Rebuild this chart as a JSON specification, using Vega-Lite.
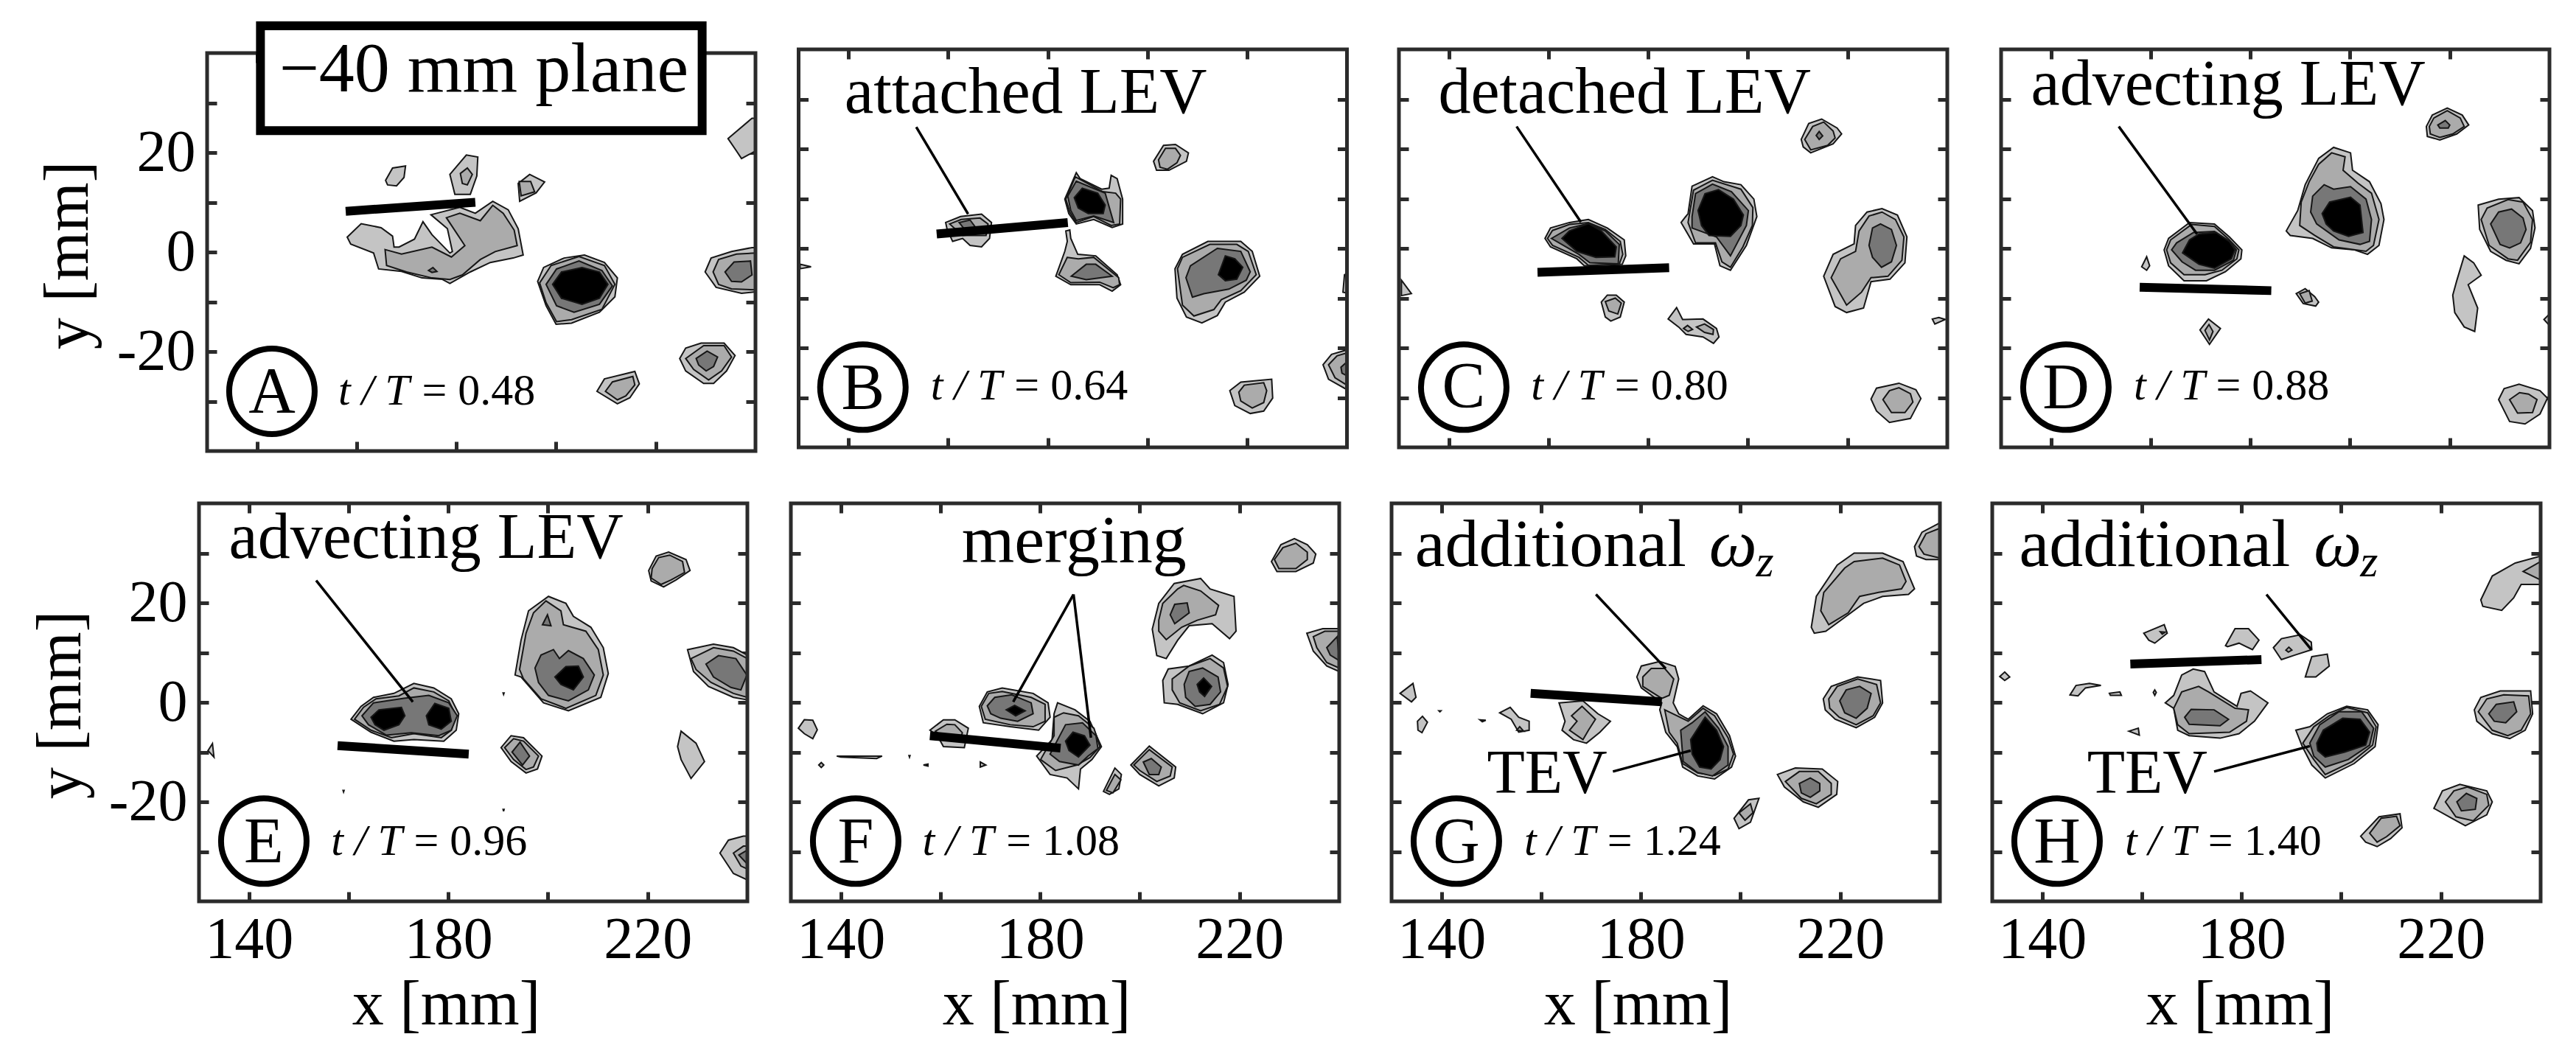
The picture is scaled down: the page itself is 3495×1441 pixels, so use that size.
{"$schema":"https://vega.github.io/schema/vega-lite/v6.json","background":"white","padding":0,"columns":4,"spacing":0,"bounds":"flush","align":"each","config":{"view":{"stroke":null},"axis":{"domain":false,"grid":false,"tickColor":"#2b2b2b","tickWidth":5,"tickSize":-13,"labels":false,"zindex":1,"labelFont":"Liberation Serif","labelFontSize":80,"labelColor":"black","titleFont":"Liberation Serif","titleFontSize":86,"titleFontWeight":"normal","titleColor":"black"},"text":{"font":"Liberation Serif","color":"black"}},
"datasets":{
"frame":[{"x":130,"x2":240,"y":-40,"y2":40}],
"A":[
{"s":"1","l":1,"x":158.1,"y":3},{"s":"1","l":1,"x":160.9,"y":5.7},{"s":"1","l":1,"x":164.9,"y":4.9},{"s":"1","l":1,"x":167.2,"y":3.2},{"s":"1","l":1,"x":167.5,"y":1},{"s":"1","l":1,"x":168.5,"y":1},{"s":"1","l":1,"x":171.6,"y":2.6},{"s":"1","l":1,"x":173.3,"y":6.1},{"s":"1","l":1,"x":175.1,"y":3.5},{"s":"1","l":1,"x":178.7,"y":-0.2},{"s":"1","l":1,"x":179.2,"y":0.1},{"s":"1","l":1,"x":178.2,"y":4.7},{"s":"1","l":1,"x":174.9,"y":7.5},{"s":"1","l":1,"x":180.7,"y":9},{"s":"1","l":1,"x":183.8,"y":7.8},{"s":"1","l":1,"x":187.3,"y":10.2},{"s":"1","l":1,"x":190.4,"y":8.5},{"s":"1","l":1,"x":192.4,"y":4.7},{"s":"1","l":1,"x":193.4,"y":-0.6},{"s":"1","l":1,"x":191.4,"y":-1.2},{"s":"1","l":1,"x":186.8,"y":-2.1},{"s":"1","l":1,"x":182.8,"y":-4},{"s":"1","l":1,"x":178.7,"y":-6.3},{"s":"1","l":1,"x":177.2,"y":-5.5},{"s":"1","l":1,"x":173.1,"y":-5.2},{"s":"1","l":1,"x":169,"y":-3.9},{"s":"1","l":1,"x":164.4,"y":-3.4},{"s":"1","l":1,"x":163.4,"y":-0.2},{"s":"1","l":1,"x":158.8,"y":1.6},
{"s":"2","l":2,"x":165.7,"y":0.5},{"s":"2","l":2,"x":169,"y":-0.4},{"s":"2","l":2,"x":175.1,"y":1},{"s":"2","l":2,"x":179,"y":-1},{"s":"2","l":2,"x":181.7,"y":1.3},{"s":"2","l":2,"x":178,"y":6.9},{"s":"2","l":2,"x":180.7,"y":7.8},{"s":"2","l":2,"x":184.8,"y":6.3},{"s":"2","l":2,"x":187.3,"y":9.4},{"s":"2","l":2,"x":189.4,"y":7.8},{"s":"2","l":2,"x":191.6,"y":4.4},{"s":"2","l":2,"x":192.2,"y":1.3},{"s":"2","l":2,"x":187.8,"y":0.1},{"s":"2","l":2,"x":184.8,"y":-1.5},{"s":"2","l":2,"x":181.2,"y":-4.6},{"s":"2","l":2,"x":178.7,"y":-5.5},{"s":"2","l":2,"x":175.1,"y":-5.2},{"s":"2","l":2,"x":170,"y":-4},{"s":"2","l":2,"x":166,"y":-2.7},
{"s":"3","l":3,"x":174.4,"y":-3.7},{"s":"3","l":3,"x":175.3,"y":-3.1},{"s":"3","l":3,"x":176.1,"y":-3.9},{"s":"3","l":3,"x":175.1,"y":-4.1},
{"s":"4","l":1,"x":165.8,"y":14.4},{"s":"4","l":1,"x":167.2,"y":16.9},{"s":"4","l":1,"x":169.8,"y":17.3},{"s":"4","l":1,"x":169.5,"y":15},{"s":"4","l":1,"x":168,"y":13.3},{"s":"4","l":1,"x":166.2,"y":13.5},
{"s":"5","l":1,"x":178.7,"y":15.6},{"s":"5","l":1,"x":182,"y":19.5},{"s":"5","l":1,"x":184.3,"y":19.1},{"s":"5","l":1,"x":184.1,"y":15.3},{"s":"5","l":1,"x":182.8,"y":11.6},{"s":"5","l":1,"x":179.7,"y":11.6},
{"s":"6","l":2,"x":180.8,"y":15.8},{"s":"6","l":2,"x":182.2,"y":16.9},{"s":"6","l":2,"x":183.2,"y":15.6},{"s":"6","l":2,"x":182.2,"y":13.5},{"s":"6","l":2,"x":181.2,"y":13.8},
{"s":"7","l":1,"x":192.4,"y":13.8},{"s":"7","l":1,"x":194.7,"y":15.6},{"s":"7","l":1,"x":197.7,"y":14.1},{"s":"7","l":1,"x":196,"y":11.9},{"s":"7","l":1,"x":192.7,"y":10.2},
{"s":"8","l":2,"x":192.6,"y":14.2},{"s":"8","l":2,"x":194.9,"y":14.2},{"s":"8","l":2,"x":195.7,"y":12.1},{"s":"8","l":2,"x":193,"y":11.3},
{"s":"9","l":1,"x":234.5,"y":22.8},{"s":"9","l":1,"x":239.3,"y":26.9},{"s":"9","l":1,"x":240,"y":26.9},{"s":"9","l":1,"x":240,"y":20.3},{"s":"9","l":1,"x":237.2,"y":18.8},{"s":"9","l":1,"x":236.2,"y":20.3},
{"s":"10","l":1,"x":196.3,"y":-5.9},{"s":"10","l":1,"x":197.5,"y":-3.1},{"s":"10","l":1,"x":201.6,"y":-1.2},{"s":"10","l":1,"x":205.7,"y":-0.6},{"s":"10","l":1,"x":209.7,"y":-2.1},{"s":"10","l":1,"x":212.3,"y":-5.2},{"s":"10","l":1,"x":211.8,"y":-9},{"s":"10","l":1,"x":208.7,"y":-12.1},{"s":"10","l":1,"x":203.1,"y":-14.3},{"s":"10","l":1,"x":200,"y":-14.5},{"s":"10","l":1,"x":198,"y":-10.8},
{"s":"11","l":2,"x":196.7,"y":-6.2},{"s":"11","l":2,"x":199,"y":-2.7},{"s":"11","l":2,"x":204.6,"y":-0.9},{"s":"11","l":2,"x":209.7,"y":-2.7},{"s":"11","l":2,"x":211.8,"y":-6.5},{"s":"11","l":2,"x":209.2,"y":-11.5},{"s":"11","l":2,"x":203.1,"y":-13.6},{"s":"11","l":2,"x":200.1,"y":-14},{"s":"11","l":2,"x":198,"y":-10.2},
{"s":"12","l":3,"x":198,"y":-6.5},{"s":"12","l":3,"x":200.1,"y":-3.4},{"s":"12","l":3,"x":204.6,"y":-1.8},{"s":"12","l":3,"x":209.2,"y":-3.7},{"s":"12","l":3,"x":211.3,"y":-6.8},{"s":"12","l":3,"x":208.7,"y":-10.5},{"s":"12","l":3,"x":203.6,"y":-12.1},{"s":"12","l":3,"x":200.1,"y":-10.8},
{"s":"13","l":4,"x":199.3,"y":-6.5},{"s":"13","l":4,"x":201.1,"y":-4},{"s":"13","l":4,"x":205.2,"y":-3.1},{"s":"13","l":4,"x":208.7,"y":-4},{"s":"13","l":4,"x":210.4,"y":-6.5},{"s":"13","l":4,"x":208.7,"y":-9.3},{"s":"13","l":4,"x":205.2,"y":-10.5},{"s":"13","l":4,"x":201.1,"y":-9.3},
{"s":"14","l":1,"x":229.9,"y":-4},{"s":"14","l":1,"x":231.1,"y":-1.2},{"s":"14","l":1,"x":235.2,"y":0.1},{"s":"14","l":1,"x":239.3,"y":0.9},{"s":"14","l":1,"x":240,"y":0.9},{"s":"14","l":1,"x":240,"y":-8},{"s":"14","l":1,"x":237.2,"y":-8.3},{"s":"14","l":1,"x":232.1,"y":-7.1},
{"s":"15","l":2,"x":231.5,"y":-4},{"s":"15","l":2,"x":232.6,"y":-1.5},{"s":"15","l":2,"x":236.2,"y":-0.4},{"s":"15","l":2,"x":240,"y":-0.2},{"s":"15","l":2,"x":240,"y":-7.6},{"s":"15","l":2,"x":235.2,"y":-7.4},{"s":"15","l":2,"x":232.6,"y":-6.5},
{"s":"16","l":3,"x":233.9,"y":-4},{"s":"16","l":3,"x":235.7,"y":-2},{"s":"16","l":3,"x":239,"y":-1.8},{"s":"16","l":3,"x":239.3,"y":-4.6},{"s":"16","l":3,"x":237.2,"y":-6},{"s":"16","l":3,"x":235.2,"y":-5.9},
{"s":"17","l":1,"x":224.8,"y":-21.4},{"s":"17","l":1,"x":226,"y":-19.3},{"s":"17","l":1,"x":229.1,"y":-18.3},{"s":"17","l":1,"x":233.7,"y":-18.3},{"s":"17","l":1,"x":235.9,"y":-20.8},{"s":"17","l":1,"x":234.2,"y":-23.9},{"s":"17","l":1,"x":231.6,"y":-26.4},{"s":"17","l":1,"x":229.6,"y":-26.4},{"s":"17","l":1,"x":226,"y":-23.9},
{"s":"18","l":2,"x":226,"y":-21.4},{"s":"18","l":2,"x":229.6,"y":-18.8},{"s":"18","l":2,"x":233.7,"y":-18.8},{"s":"18","l":2,"x":235.2,"y":-21.1},{"s":"18","l":2,"x":233.2,"y":-23.9},{"s":"18","l":2,"x":230.6,"y":-25.7},{"s":"18","l":2,"x":227.6,"y":-23.6},
{"s":"19","l":3,"x":228.1,"y":-21.4},{"s":"19","l":3,"x":230.3,"y":-19.9},{"s":"19","l":3,"x":232.4,"y":-21.1},{"s":"19","l":3,"x":231.6,"y":-23},{"s":"19","l":3,"x":230.1,"y":-23.9},{"s":"19","l":3,"x":228.6,"y":-22.7},
{"s":"20","l":1,"x":208.2,"y":-28},{"s":"20","l":1,"x":209.7,"y":-25.5},{"s":"20","l":1,"x":215.8,"y":-24},{"s":"20","l":1,"x":216.7,"y":-26.5},{"s":"20","l":1,"x":214.8,"y":-29.3},{"s":"20","l":1,"x":212.3,"y":-30.5},
{"s":"21","l":2,"x":209.9,"y":-28},{"s":"21","l":2,"x":211.3,"y":-26.1},{"s":"21","l":2,"x":215.4,"y":-25},{"s":"21","l":2,"x":215.8,"y":-26.7},{"s":"21","l":2,"x":214,"y":-28.9},{"s":"21","l":2,"x":212.3,"y":-29.7}],
"B":[
{"s":"1","l":1,"x":159.5,"y":5.2},{"s":"1","l":1,"x":162.5,"y":6.4},{"s":"1","l":1,"x":166.7,"y":6.9},{"s":"1","l":1,"x":168.7,"y":5.2},{"s":"1","l":1,"x":168.3,"y":2},{"s":"1","l":1,"x":166.7,"y":0.3},{"s":"1","l":1,"x":164.4,"y":0.6},{"s":"1","l":1,"x":162.9,"y":2},{"s":"1","l":1,"x":160.9,"y":1.4},{"s":"1","l":1,"x":159.8,"y":3.8},
{"s":"2","l":2,"x":160.3,"y":4.9},{"s":"2","l":2,"x":162.6,"y":5.8},{"s":"2","l":2,"x":166.4,"y":6.1},{"s":"2","l":2,"x":168,"y":4.9},{"s":"2","l":2,"x":167.6,"y":2.6},{"s":"2","l":2,"x":162.9,"y":2.6},
{"s":"3","l":3,"x":162.2,"y":5.2},{"s":"3","l":3,"x":164.4,"y":5.7},{"s":"3","l":3,"x":165.8,"y":3.8},{"s":"3","l":3,"x":163.3,"y":3.8},
{"s":"4","l":1,"x":130.3,"y":-3.2},{"s":"4","l":1,"x":132.5,"y":-3.7},{"s":"4","l":1,"x":130.3,"y":-4.1},
{"s":"5","l":1,"x":201.2,"y":17.5},{"s":"5","l":1,"x":203.2,"y":20.7},{"s":"5","l":1,"x":205.6,"y":20.9},{"s":"5","l":1,"x":208.2,"y":19.2},{"s":"5","l":1,"x":207.8,"y":17.5},{"s":"5","l":1,"x":204.3,"y":15.7},{"s":"5","l":1,"x":201.8,"y":15.7},
{"s":"6","l":2,"x":202.2,"y":17.8},{"s":"6","l":2,"x":203.6,"y":20.1},{"s":"6","l":2,"x":205.6,"y":20.1},{"s":"6","l":2,"x":206.6,"y":18.7},{"s":"6","l":2,"x":205.9,"y":17.2},{"s":"6","l":2,"x":204,"y":15.9},{"s":"6","l":2,"x":202.5,"y":16.3},
{"s":"7","l":1,"x":183.4,"y":9.9},{"s":"7","l":1,"x":185.7,"y":15.2},{"s":"7","l":1,"x":186.5,"y":14},{"s":"7","l":1,"x":190.8,"y":11.9},{"s":"7","l":1,"x":192.3,"y":12.1},{"s":"7","l":1,"x":192.7,"y":14.7},{"s":"7","l":1,"x":193.9,"y":14},{"s":"7","l":1,"x":195,"y":9.9},{"s":"7","l":1,"x":195,"y":4.9},{"s":"7","l":1,"x":192.9,"y":4.2},{"s":"7","l":1,"x":189.2,"y":5.8},{"s":"7","l":1,"x":185.7,"y":4.9},{"s":"7","l":1,"x":184.2,"y":7},
{"s":"8","l":2,"x":183.6,"y":9.9},{"s":"8","l":2,"x":185.5,"y":14.4},{"s":"8","l":2,"x":191,"y":11.4},{"s":"8","l":2,"x":193.6,"y":11.1},{"s":"8","l":2,"x":194.6,"y":9.9},{"s":"8","l":2,"x":194.4,"y":4.9},{"s":"8","l":2,"x":192.7,"y":4.6},{"s":"8","l":2,"x":189.2,"y":6.4},{"s":"8","l":2,"x":185.7,"y":5.2},{"s":"8","l":2,"x":184.4,"y":7.3},
{"s":"9","l":3,"x":184,"y":10.5},{"s":"9","l":3,"x":185.7,"y":13.5},{"s":"9","l":3,"x":191.5,"y":11.1},{"s":"9","l":3,"x":193.2,"y":5.2},{"s":"9","l":3,"x":189.2,"y":6.5},{"s":"9","l":3,"x":185.7,"y":5.6},{"s":"9","l":3,"x":184.6,"y":7.6},
{"s":"10","l":4,"x":185.3,"y":10.2},{"s":"10","l":4,"x":186.9,"y":12.1},{"s":"10","l":4,"x":190,"y":11.1},{"s":"10","l":4,"x":191.5,"y":8.7},{"s":"10","l":4,"x":191.1,"y":7},{"s":"10","l":4,"x":188.1,"y":7},{"s":"10","l":4,"x":186.1,"y":8.1},
{"s":"11","l":1,"x":183.6,"y":3.5},{"s":"11","l":1,"x":184.4,"y":3.7},{"s":"11","l":1,"x":184.6,"y":2},{"s":"11","l":1,"x":186,"y":-1.2},{"s":"11","l":1,"x":189.6,"y":-1.5},{"s":"11","l":1,"x":193.9,"y":-5.3},{"s":"11","l":1,"x":194.6,"y":-7.3},{"s":"11","l":1,"x":192.9,"y":-8.6},{"s":"11","l":1,"x":190.4,"y":-7.3},{"s":"11","l":1,"x":184.6,"y":-7.3},{"s":"11","l":1,"x":181.6,"y":-5.6},{"s":"11","l":1,"x":183.4,"y":-0.6},{"s":"11","l":1,"x":183.9,"y":1.4},
{"s":"12","l":2,"x":183.9,"y":-1.8},{"s":"12","l":2,"x":186.1,"y":-2.1},{"s":"12","l":2,"x":189.2,"y":-1.8},{"s":"12","l":2,"x":194.2,"y":-5.9},{"s":"12","l":2,"x":194.4,"y":-7.3},{"s":"12","l":2,"x":193.1,"y":-7.9},{"s":"12","l":2,"x":190.4,"y":-6.8},{"s":"12","l":2,"x":184.6,"y":-6.9},{"s":"12","l":2,"x":182.2,"y":-5.3},
{"s":"13","l":3,"x":184.7,"y":-5.6},{"s":"13","l":3,"x":187.7,"y":-3.2},{"s":"13","l":3,"x":189.6,"y":-3.2},{"s":"13","l":3,"x":192.9,"y":-5.6},{"s":"13","l":3,"x":187.7,"y":-6.3},
{"s":"14","l":1,"x":205.5,"y":-4.1},{"s":"14","l":1,"x":207,"y":-1.2},{"s":"14","l":1,"x":212.1,"y":1.4},{"s":"14","l":1,"x":218.7,"y":1.4},{"s":"14","l":1,"x":221,"y":-0.6},{"s":"14","l":1,"x":222.5,"y":-5.6},{"s":"14","l":1,"x":219.4,"y":-8.8},{"s":"14","l":1,"x":215.6,"y":-10.8},{"s":"14","l":1,"x":214,"y":-13.5},{"s":"14","l":1,"x":210.9,"y":-15},{"s":"14","l":1,"x":207.8,"y":-13.8},{"s":"14","l":1,"x":205.9,"y":-10},
{"s":"15","l":2,"x":206,"y":-4.1},{"s":"15","l":2,"x":207,"y":-1.8},{"s":"15","l":2,"x":212.5,"y":0.8},{"s":"15","l":2,"x":217.9,"y":0.8},{"s":"15","l":2,"x":220.2,"y":-0.6},{"s":"15","l":2,"x":221.8,"y":-5.3},{"s":"15","l":2,"x":218.7,"y":-8.5},{"s":"15","l":2,"x":214.8,"y":-10.3},{"s":"15","l":2,"x":213.3,"y":-12.3},{"s":"15","l":2,"x":209.3,"y":-13.6},{"s":"15","l":2,"x":207,"y":-11.4},
{"s":"16","l":3,"x":207.7,"y":-5.9},{"s":"16","l":3,"x":208.6,"y":-3.5},{"s":"16","l":3,"x":214,"y":0},{"s":"16","l":3,"x":218.7,"y":-0.6},{"s":"16","l":3,"x":220.6,"y":-4.7},{"s":"16","l":3,"x":219.8,"y":-6.4},{"s":"16","l":3,"x":216.3,"y":-8.2},{"s":"16","l":3,"x":211.3,"y":-9.1},{"s":"16","l":3,"x":209,"y":-9.8},
{"s":"17","l":4,"x":214.2,"y":-5.3},{"s":"17","l":4,"x":215.6,"y":-1.5},{"s":"17","l":4,"x":217.5,"y":-2.1},{"s":"17","l":4,"x":219.1,"y":-3.8},{"s":"17","l":4,"x":217.9,"y":-6.2},{"s":"17","l":4,"x":215.6,"y":-6.5},
{"s":"18","l":1,"x":239.2,"y":-8.8},{"s":"18","l":1,"x":239.5,"y":-5.3},{"s":"18","l":1,"x":240,"y":-5},{"s":"18","l":1,"x":240,"y":-9},
{"s":"19","l":1,"x":235.2,"y":-23.4},{"s":"19","l":1,"x":236.9,"y":-21.3},{"s":"19","l":1,"x":240,"y":-20.4},{"s":"19","l":1,"x":240,"y":-28.4},{"s":"19","l":1,"x":236.3,"y":-26.3},
{"s":"20","l":2,"x":236.3,"y":-23.4},{"s":"20","l":2,"x":238,"y":-21.6},{"s":"20","l":2,"x":240,"y":-21},{"s":"20","l":2,"x":240,"y":-27.5},{"s":"20","l":2,"x":237.6,"y":-26},
{"s":"21","l":3,"x":238.8,"y":-23.9},{"s":"21","l":3,"x":240,"y":-22.8},{"s":"21","l":3,"x":240,"y":-25.6},{"s":"21","l":3,"x":239,"y":-25.1},
{"s":"22","l":1,"x":216.5,"y":-28.6},{"s":"22","l":1,"x":218.7,"y":-26.9},{"s":"22","l":1,"x":224.9,"y":-26.3},{"s":"22","l":1,"x":225.1,"y":-30.1},{"s":"22","l":1,"x":223.3,"y":-32.7},{"s":"22","l":1,"x":220.6,"y":-33.2},{"s":"22","l":1,"x":217.5,"y":-31.6},
{"s":"23","l":2,"x":218.3,"y":-28.9},{"s":"23","l":2,"x":219.4,"y":-27.5},{"s":"23","l":2,"x":223.3,"y":-27},{"s":"23","l":2,"x":223.9,"y":-28.6},{"s":"23","l":2,"x":223.3,"y":-31},{"s":"23","l":2,"x":221,"y":-32.1},{"s":"23","l":2,"x":218.7,"y":-30.7}],
"C":[
{"s":"1","l":1,"x":159.3,"y":2},{"s":"1","l":1,"x":160.4,"y":4.1},{"s":"1","l":1,"x":164.2,"y":5.2},{"s":"1","l":1,"x":168,"y":5.8},{"s":"1","l":1,"x":171.8,"y":4.1},{"s":"1","l":1,"x":175.2,"y":1.7},{"s":"1","l":1,"x":175.5,"y":-1.5},{"s":"1","l":1,"x":174.8,"y":-3.2},{"s":"1","l":1,"x":167.2,"y":-3.5},{"s":"1","l":1,"x":165.7,"y":-2.1},{"s":"1","l":1,"x":160.4,"y":0.3},
{"s":"2","l":2,"x":159.8,"y":2},{"s":"2","l":2,"x":160.8,"y":3.6},{"s":"2","l":2,"x":164.2,"y":4.8},{"s":"2","l":2,"x":168,"y":5.2},{"s":"2","l":2,"x":171.4,"y":3.8},{"s":"2","l":2,"x":174.4,"y":1.4},{"s":"2","l":2,"x":174.9,"y":-1.2},{"s":"2","l":2,"x":174.2,"y":-3.2},{"s":"2","l":2,"x":168,"y":-3.4},{"s":"2","l":2,"x":166.1,"y":-1.8},{"s":"2","l":2,"x":160.8,"y":0.6},
{"s":"3","l":3,"x":160.6,"y":2},{"s":"3","l":3,"x":164.2,"y":4.1},{"s":"3","l":3,"x":168,"y":5},{"s":"3","l":3,"x":171.4,"y":3.5},{"s":"3","l":3,"x":174.2,"y":0.8},{"s":"3","l":3,"x":174,"y":-3.1},{"s":"3","l":3,"x":168.3,"y":-2.9},{"s":"3","l":3,"x":166.1,"y":-1.2},
{"s":"4","l":4,"x":162.7,"y":2},{"s":"4","l":4,"x":164.2,"y":3.5},{"s":"4","l":4,"x":168,"y":5},{"s":"4","l":4,"x":170.6,"y":3.5},{"s":"4","l":4,"x":173.6,"y":0.3},{"s":"4","l":4,"x":173.3,"y":-1.7},{"s":"4","l":4,"x":169.5,"y":-1.8},{"s":"4","l":4,"x":165.7,"y":-0.6},
{"s":"5","l":1,"x":130.5,"y":-6.4},{"s":"5","l":1,"x":132.5,"y":-9.1},{"s":"5","l":1,"x":130.5,"y":-9.5},
{"s":"6","l":1,"x":186.6,"y":5.2},{"s":"6","l":1,"x":188,"y":7},{"s":"6","l":1,"x":188.8,"y":12.5},{"s":"6","l":1,"x":192.9,"y":14.4},{"s":"6","l":1,"x":195.2,"y":13.4},{"s":"6","l":1,"x":198.6,"y":12.8},{"s":"6","l":1,"x":201.2,"y":9.9},{"s":"6","l":1,"x":201.8,"y":6.4},{"s":"6","l":1,"x":199.7,"y":0.6},{"s":"6","l":1,"x":196.5,"y":-4.4},{"s":"6","l":1,"x":194.4,"y":-3.5},{"s":"6","l":1,"x":193.3,"y":0.9},{"s":"6","l":1,"x":189.1,"y":0.9},
{"s":"7","l":2,"x":188,"y":5.2},{"s":"7","l":2,"x":189.1,"y":11.7},{"s":"7","l":2,"x":192.9,"y":13.7},{"s":"7","l":2,"x":198.6,"y":11.9},{"s":"7","l":2,"x":201,"y":8.2},{"s":"7","l":2,"x":200.9,"y":4.6},{"s":"7","l":2,"x":199,"y":0.3},{"s":"7","l":2,"x":196.5,"y":-3.8},{"s":"7","l":2,"x":194.8,"y":-2.7},{"s":"7","l":2,"x":193.5,"y":1.1},{"s":"7","l":2,"x":189.5,"y":1.1},
{"s":"8","l":3,"x":188.8,"y":6.4},{"s":"8","l":3,"x":189.5,"y":11},{"s":"8","l":3,"x":192.9,"y":12.9},{"s":"8","l":3,"x":196.7,"y":11.4},{"s":"8","l":3,"x":200.1,"y":7.6},{"s":"8","l":3,"x":199.7,"y":4.6},{"s":"8","l":3,"x":196.5,"y":-1.5},{"s":"8","l":3,"x":193.7,"y":2.3},{"s":"8","l":3,"x":188.8,"y":4.1},
{"s":"9","l":4,"x":190,"y":7.6},{"s":"9","l":4,"x":191.4,"y":11},{"s":"9","l":4,"x":194.1,"y":11.8},{"s":"9","l":4,"x":197.1,"y":9.9},{"s":"9","l":4,"x":199.1,"y":6.7},{"s":"9","l":4,"x":198.6,"y":4.6},{"s":"9","l":4,"x":196.5,"y":2.4},{"s":"9","l":4,"x":192.2,"y":2.6},{"s":"9","l":4,"x":190.7,"y":4.6},
{"s":"10","l":1,"x":210.7,"y":21.9},{"s":"10","l":1,"x":212.2,"y":25.1},{"s":"10","l":1,"x":214.8,"y":26},{"s":"10","l":1,"x":217.9,"y":24.2},{"s":"10","l":1,"x":218.8,"y":23},{"s":"10","l":1,"x":217.1,"y":21},{"s":"10","l":1,"x":212.6,"y":19.2},{"s":"10","l":1,"x":211.1,"y":20.4},
{"s":"11","l":2,"x":211.4,"y":21.9},{"s":"11","l":2,"x":213,"y":24.5},{"s":"11","l":2,"x":215.2,"y":25.4},{"s":"11","l":2,"x":217.1,"y":23.6},{"s":"11","l":2,"x":217.5,"y":22.2},{"s":"11","l":2,"x":216,"y":20.7},{"s":"11","l":2,"x":212.6,"y":19.8},
{"s":"12","l":3,"x":213.7,"y":22.7},{"s":"12","l":3,"x":214.3,"y":23.5},{"s":"12","l":3,"x":215,"y":22.6},{"s":"12","l":3,"x":214.3,"y":21.9},
{"s":"13","l":1,"x":215.2,"y":-5.6},{"s":"13","l":1,"x":217.1,"y":-1.2},{"s":"13","l":1,"x":221.3,"y":0.9},{"s":"13","l":1,"x":221.6,"y":4.6},{"s":"13","l":1,"x":223.9,"y":7.3},{"s":"13","l":1,"x":226.9,"y":8},{"s":"13","l":1,"x":230,"y":6.7},{"s":"13","l":1,"x":231.9,"y":2.3},{"s":"13","l":1,"x":231.5,"y":-2.9},{"s":"13","l":1,"x":228.5,"y":-6.2},{"s":"13","l":1,"x":224.7,"y":-6.7},{"s":"13","l":1,"x":223.2,"y":-12},{"s":"13","l":1,"x":219.8,"y":-12.9},{"s":"13","l":1,"x":217.5,"y":-11.7},
{"s":"14","l":2,"x":216.7,"y":-5.9},{"s":"14","l":2,"x":218.6,"y":-2.1},{"s":"14","l":2,"x":221.6,"y":-0.6},{"s":"14","l":2,"x":222.3,"y":3.5},{"s":"14","l":2,"x":224.3,"y":6.5},{"s":"14","l":2,"x":226.9,"y":7.3},{"s":"14","l":2,"x":229.6,"y":5.8},{"s":"14","l":2,"x":231.3,"y":2.3},{"s":"14","l":2,"x":230.9,"y":-2.4},{"s":"14","l":2,"x":228.1,"y":-5.6},{"s":"14","l":2,"x":224.7,"y":-5.9},{"s":"14","l":2,"x":222.8,"y":-8.8},{"s":"14","l":2,"x":219.8,"y":-11.4},
{"s":"15","l":3,"x":224.3,"y":0.6},{"s":"15","l":3,"x":225,"y":4.1},{"s":"15","l":3,"x":226.6,"y":4.9},{"s":"15","l":3,"x":228.8,"y":3.8},{"s":"15","l":3,"x":229.8,"y":0.6},{"s":"15","l":3,"x":228.8,"y":-2.7},{"s":"15","l":3,"x":226.8,"y":-3.8},{"s":"15","l":3,"x":225,"y":-1.8},
{"s":"16","l":1,"x":170.6,"y":-10.8},{"s":"16","l":1,"x":171.8,"y":-9.4},{"s":"16","l":1,"x":173.6,"y":-9.4},{"s":"16","l":1,"x":175.2,"y":-10.8},{"s":"16","l":1,"x":174.4,"y":-13.8},{"s":"16","l":1,"x":172.5,"y":-14.6},{"s":"16","l":1,"x":171.4,"y":-13.8},
{"s":"17","l":2,"x":171.4,"y":-10.7},{"s":"17","l":2,"x":173.4,"y":-10},{"s":"17","l":2,"x":174.6,"y":-11},{"s":"17","l":2,"x":173.9,"y":-13.2},{"s":"17","l":2,"x":172.1,"y":-12.6},
{"s":"18","l":1,"x":184,"y":-14.2},{"s":"18","l":1,"x":185.7,"y":-11.9},{"s":"18","l":1,"x":186.9,"y":-14.3},{"s":"18","l":1,"x":191,"y":-14.2},{"s":"18","l":1,"x":193.7,"y":-16.1},{"s":"18","l":1,"x":194.2,"y":-17.8},{"s":"18","l":1,"x":193.1,"y":-19.1},{"s":"18","l":1,"x":191,"y":-17.8},{"s":"18","l":1,"x":187.6,"y":-17.3},{"s":"18","l":1,"x":186.1,"y":-15.8},
{"s":"19","l":2,"x":189.7,"y":-15.8},{"s":"19","l":2,"x":191.3,"y":-15.2},{"s":"19","l":2,"x":193.1,"y":-16.3},{"s":"19","l":2,"x":193,"y":-17.3},{"s":"19","l":2,"x":191.3,"y":-16.9},
{"s":"20","l":2,"x":187.1,"y":-16.1},{"s":"20","l":2,"x":187.9,"y":-15.5},{"s":"20","l":2,"x":188.9,"y":-16.3},{"s":"20","l":2,"x":188,"y":-16.7},
{"s":"21","l":1,"x":237,"y":-14.2},{"s":"21","l":1,"x":238.3,"y":-13.9},{"s":"21","l":1,"x":239.6,"y":-14.3},{"s":"21","l":1,"x":237.5,"y":-15.2},
{"s":"22","l":1,"x":224.7,"y":-30.3},{"s":"22","l":1,"x":225.8,"y":-28.1},{"s":"22","l":1,"x":230.3,"y":-27.1},{"s":"22","l":1,"x":233.7,"y":-28.4},{"s":"22","l":1,"x":234.7,"y":-30.2},{"s":"22","l":1,"x":232.6,"y":-34.2},{"s":"22","l":1,"x":228.4,"y":-35},{"s":"22","l":1,"x":225.8,"y":-32.7},
{"s":"23","l":2,"x":227.1,"y":-30.4},{"s":"23","l":2,"x":228.4,"y":-28.6},{"s":"23","l":2,"x":230.3,"y":-28},{"s":"23","l":2,"x":232.6,"y":-29.2},{"s":"23","l":2,"x":233.1,"y":-30.9},{"s":"23","l":2,"x":231.5,"y":-33},{"s":"23","l":2,"x":228.8,"y":-33}],
"D":[
{"s":"1","l":1,"x":162.7,"y":-0.3},{"s":"1","l":1,"x":163.6,"y":2},{"s":"1","l":1,"x":167.8,"y":5.2},{"s":"1","l":1,"x":172.8,"y":4.9},{"s":"1","l":1,"x":175.8,"y":2.3},{"s":"1","l":1,"x":178.3,"y":-0.3},{"s":"1","l":1,"x":178.1,"y":-2.1},{"s":"1","l":1,"x":175,"y":-4.7},{"s":"1","l":1,"x":171.2,"y":-6.5},{"s":"1","l":1,"x":166.7,"y":-6.5},{"s":"1","l":1,"x":163.6,"y":-3.5},
{"s":"2","l":2,"x":163.2,"y":-0.3},{"s":"2","l":2,"x":164,"y":1.7},{"s":"2","l":2,"x":168.2,"y":4.8},{"s":"2","l":2,"x":172.8,"y":4.4},{"s":"2","l":2,"x":175.5,"y":2},{"s":"2","l":2,"x":177.7,"y":-0.3},{"s":"2","l":2,"x":177.3,"y":-2.1},{"s":"2","l":2,"x":174.3,"y":-4.4},{"s":"2","l":2,"x":170.9,"y":-5.3},{"s":"2","l":2,"x":166.7,"y":-5.3},{"s":"2","l":2,"x":164,"y":-2.9},
{"s":"3","l":3,"x":164.2,"y":-0.3},{"s":"3","l":3,"x":165.2,"y":1.1},{"s":"3","l":3,"x":168.6,"y":3.2},{"s":"3","l":3,"x":172.8,"y":3.4},{"s":"3","l":3,"x":175.8,"y":1.4},{"s":"3","l":3,"x":177.2,"y":-0.3},{"s":"3","l":3,"x":176.6,"y":-2.4},{"s":"3","l":3,"x":172.8,"y":-4.4},{"s":"3","l":3,"x":169,"y":-4.4},{"s":"3","l":3,"x":166.3,"y":-2.7},
{"s":"4","l":4,"x":166.4,"y":-0.9},{"s":"4","l":4,"x":167.8,"y":1.7},{"s":"4","l":4,"x":169.7,"y":2.9},{"s":"4","l":4,"x":173.1,"y":3.2},{"s":"4","l":4,"x":175.8,"y":1.4},{"s":"4","l":4,"x":176.9,"y":-0.3},{"s":"4","l":4,"x":176.2,"y":-2.1},{"s":"4","l":4,"x":172.8,"y":-4},{"s":"4","l":4,"x":169.7,"y":-3.2},
{"s":"5","l":1,"x":158.2,"y":-3.7},{"s":"5","l":1,"x":159.2,"y":-1.7},{"s":"5","l":1,"x":159.8,"y":-3.5},{"s":"5","l":1,"x":159.2,"y":-4.4},
{"s":"6","l":1,"x":187.2,"y":3.5},{"s":"6","l":1,"x":189.5,"y":7.6},{"s":"6","l":1,"x":191,"y":12.8},{"s":"6","l":1,"x":193.7,"y":18.1},{"s":"6","l":1,"x":196.7,"y":20.3},{"s":"6","l":1,"x":200.1,"y":19.2},{"s":"6","l":1,"x":200.5,"y":15.7},{"s":"6","l":1,"x":203.9,"y":13.4},{"s":"6","l":1,"x":206.2,"y":9},{"s":"6","l":1,"x":206.8,"y":5.8},{"s":"6","l":1,"x":205.8,"y":0.6},{"s":"6","l":1,"x":203.5,"y":-1.2},{"s":"6","l":1,"x":200.9,"y":-0.3},{"s":"6","l":1,"x":196.3,"y":0.1},{"s":"6","l":1,"x":192.5,"y":2},{"s":"6","l":1,"x":188,"y":2.6},
{"s":"7","l":2,"x":189.9,"y":4.6},{"s":"7","l":2,"x":190.2,"y":9.3},{"s":"7","l":2,"x":191.8,"y":13.4},{"s":"7","l":2,"x":193.7,"y":16.9},{"s":"7","l":2,"x":196.3,"y":19.2},{"s":"7","l":2,"x":199,"y":18.4},{"s":"7","l":2,"x":198.6,"y":15.7},{"s":"7","l":2,"x":201.6,"y":13.1},{"s":"7","l":2,"x":204.3,"y":11.1},{"s":"7","l":2,"x":205.8,"y":5.8},{"s":"7","l":2,"x":204.7,"y":0.6},{"s":"7","l":2,"x":203.2,"y":-0.6},{"s":"7","l":2,"x":196.7,"y":0.3},{"s":"7","l":2,"x":192.9,"y":2.6},
{"s":"8","l":3,"x":192.1,"y":7.3},{"s":"8","l":3,"x":192.5,"y":10.5},{"s":"8","l":3,"x":194.8,"y":12.8},{"s":"8","l":3,"x":196.7,"y":11.9},{"s":"8","l":3,"x":200.1,"y":12.4},{"s":"8","l":3,"x":203.2,"y":9.9},{"s":"8","l":3,"x":204.3,"y":5.8},{"s":"8","l":3,"x":203.9,"y":1.4},{"s":"8","l":3,"x":202,"y":0.8},{"s":"8","l":3,"x":197.8,"y":1.7},{"s":"8","l":3,"x":193.3,"y":4.9},
{"s":"9","l":4,"x":194.4,"y":7},{"s":"9","l":4,"x":195.9,"y":9.3},{"s":"9","l":4,"x":200.1,"y":10.3},{"s":"9","l":4,"x":202,"y":8.7},{"s":"9","l":4,"x":202.6,"y":3.2},{"s":"9","l":4,"x":199.7,"y":2.4},{"s":"9","l":4,"x":196.7,"y":3.5},{"s":"9","l":4,"x":195.2,"y":4.9},
{"s":"10","l":1,"x":215.3,"y":24.5},{"s":"10","l":1,"x":216.5,"y":26.8},{"s":"10","l":1,"x":219.5,"y":28.2},{"s":"10","l":1,"x":222.5,"y":26.8},{"s":"10","l":1,"x":223.8,"y":24.8},{"s":"10","l":1,"x":221.4,"y":23},{"s":"10","l":1,"x":218,"y":21.8},{"s":"10","l":1,"x":215.5,"y":22.5},
{"s":"11","l":2,"x":215.9,"y":24.5},{"s":"11","l":2,"x":216.8,"y":26.2},{"s":"11","l":2,"x":219.5,"y":27.7},{"s":"11","l":2,"x":222.1,"y":26.2},{"s":"11","l":2,"x":222.9,"y":24.5},{"s":"11","l":2,"x":220.6,"y":23},{"s":"11","l":2,"x":218,"y":22.3},{"s":"11","l":2,"x":216.1,"y":23},
{"s":"12","l":3,"x":217.6,"y":24.8},{"s":"12","l":3,"x":219.1,"y":25.7},{"s":"12","l":3,"x":220,"y":24.8},{"s":"12","l":3,"x":219.7,"y":24.2},{"s":"12","l":3,"x":218,"y":24.2},
{"s":"13","l":1,"x":225.7,"y":8.7},{"s":"13","l":1,"x":229.8,"y":9.9},{"s":"13","l":1,"x":233.9,"y":10.2},{"s":"13","l":1,"x":236.6,"y":7.6},{"s":"13","l":1,"x":237.1,"y":4.1},{"s":"13","l":1,"x":236.2,"y":0},{"s":"13","l":1,"x":233.9,"y":-3.1},{"s":"13","l":1,"x":231.3,"y":-2.4},{"s":"13","l":1,"x":228.2,"y":-0.6},{"s":"13","l":1,"x":226,"y":3.8},
{"s":"14","l":2,"x":226.3,"y":5.8},{"s":"14","l":2,"x":227.5,"y":8.1},{"s":"14","l":2,"x":231.7,"y":9.8},{"s":"14","l":2,"x":234.7,"y":9.3},{"s":"14","l":2,"x":236.6,"y":5.8},{"s":"14","l":2,"x":236.2,"y":1.2},{"s":"14","l":2,"x":233.6,"y":-2.4},{"s":"14","l":2,"x":231.7,"y":-2.1},{"s":"14","l":2,"x":227.9,"y":0.6},
{"s":"15","l":3,"x":228.2,"y":4.9},{"s":"15","l":3,"x":229.8,"y":7.3},{"s":"15","l":3,"x":232.4,"y":7.9},{"s":"15","l":3,"x":234.7,"y":6.1},{"s":"15","l":3,"x":235.3,"y":3.8},{"s":"15","l":3,"x":234.2,"y":1.1},{"s":"15","l":3,"x":232,"y":0.1},{"s":"15","l":3,"x":230.1,"y":0.8},
{"s":"16","l":1,"x":220.6,"y":-9.4},{"s":"16","l":1,"x":221.4,"y":-6.5},{"s":"16","l":1,"x":222.9,"y":-1.5},{"s":"16","l":1,"x":224.8,"y":-2.9},{"s":"16","l":1,"x":226.3,"y":-5.4},{"s":"16","l":1,"x":223.7,"y":-7.3},{"s":"16","l":1,"x":225.6,"y":-12},{"s":"16","l":1,"x":225,"y":-16.7},{"s":"16","l":1,"x":222.9,"y":-15.8},{"s":"16","l":1,"x":221,"y":-12.9},
{"s":"17","l":1,"x":189.2,"y":-9.1},{"s":"17","l":1,"x":191,"y":-8.1},{"s":"17","l":1,"x":192.9,"y":-9.7},{"s":"17","l":1,"x":193.7,"y":-10.8},{"s":"17","l":1,"x":193.1,"y":-11.6},{"s":"17","l":1,"x":190.6,"y":-11.1},
{"s":"18","l":2,"x":189.9,"y":-9.1},{"s":"18","l":2,"x":191.8,"y":-8.5},{"s":"18","l":2,"x":192.4,"y":-10.6},{"s":"18","l":2,"x":191,"y":-11},
{"s":"19","l":1,"x":169.9,"y":-16.4},{"s":"19","l":1,"x":171.6,"y":-14.2},{"s":"19","l":1,"x":174,"y":-16.1},{"s":"19","l":1,"x":171.8,"y":-19.3},
{"s":"20","l":2,"x":170.9,"y":-16.5},{"s":"20","l":2,"x":171.7,"y":-15.3},{"s":"20","l":2,"x":172.5,"y":-16.7},{"s":"20","l":2,"x":171.8,"y":-18.4},
{"s":"21","l":1,"x":238.9,"y":-14.3},{"s":"21","l":1,"x":240,"y":-13.2},{"s":"21","l":1,"x":240,"y":-15.5},
{"s":"22","l":1,"x":229.8,"y":-30.4},{"s":"22","l":1,"x":230.9,"y":-28.2},{"s":"22","l":1,"x":233.9,"y":-27.3},{"s":"22","l":1,"x":238.1,"y":-28.6},{"s":"22","l":1,"x":239.6,"y":-30.1},{"s":"22","l":1,"x":238.1,"y":-33.3},{"s":"22","l":1,"x":235.1,"y":-35.3},{"s":"22","l":1,"x":232,"y":-34.8},
{"s":"23","l":2,"x":232,"y":-30.4},{"s":"23","l":2,"x":234,"y":-29},{"s":"23","l":2,"x":235.8,"y":-29.3},{"s":"23","l":2,"x":237.5,"y":-30.4},{"s":"23","l":2,"x":236.6,"y":-33},{"s":"23","l":2,"x":233.6,"y":-33.1}],
"E":[
{"s":"1","l":1,"x":160.5,"y":-3.4},{"s":"1","l":1,"x":162.5,"y":-0.8},{"s":"1","l":1,"x":165,"y":1},{"s":"1","l":1,"x":169.1,"y":1.8},{"s":"1","l":1,"x":173.1,"y":3.8},{"s":"1","l":1,"x":177.1,"y":2.9},{"s":"1","l":1,"x":180.6,"y":0.7},{"s":"1","l":1,"x":182.1,"y":-2.3},{"s":"1","l":1,"x":181.6,"y":-5.6},{"s":"1","l":1,"x":179.1,"y":-7.8},{"s":"1","l":1,"x":173.1,"y":-7.5},{"s":"1","l":1,"x":169.1,"y":-7.8},{"s":"1","l":1,"x":164.5,"y":-6},
{"s":"2","l":2,"x":161.2,"y":-3.4},{"s":"2","l":2,"x":163,"y":-1},{"s":"2","l":2,"x":165.5,"y":0.7},{"s":"2","l":2,"x":170.1,"y":1.3},{"s":"2","l":2,"x":173.1,"y":2.9},{"s":"2","l":2,"x":177.1,"y":2.1},{"s":"2","l":2,"x":180.1,"y":0.3},{"s":"2","l":2,"x":181.6,"y":-2.7},{"s":"2","l":2,"x":180.6,"y":-5.6},{"s":"2","l":2,"x":178.6,"y":-7.1},{"s":"2","l":2,"x":173.1,"y":-6.3},{"s":"2","l":2,"x":168.6,"y":-7.1},{"s":"2","l":2,"x":164.5,"y":-5.6},
{"s":"3","l":3,"x":162.7,"y":-2.7},{"s":"3","l":3,"x":165,"y":-0.1},{"s":"3","l":3,"x":171.1,"y":0.8},{"s":"3","l":3,"x":176.1,"y":1.4},{"s":"3","l":3,"x":180.1,"y":-0.1},{"s":"3","l":3,"x":181.8,"y":-2.7},{"s":"3","l":3,"x":180.6,"y":-5.6},{"s":"3","l":3,"x":178.1,"y":-6.7},{"s":"3","l":3,"x":172.6,"y":-6.1},{"s":"3","l":3,"x":167.6,"y":-6.6},{"s":"3","l":3,"x":164,"y":-4.5},
{"s":"4","l":4,"x":164.5,"y":-3},{"s":"4","l":4,"x":166.1,"y":-1.5},{"s":"4","l":4,"x":170.6,"y":-1},{"s":"4","l":4,"x":171.3,"y":-2.7},{"s":"4","l":4,"x":170.1,"y":-4.5},{"s":"4","l":4,"x":167.1,"y":-5.6},{"s":"4","l":4,"x":165.3,"y":-4.5},
{"s":"5","l":4,"x":175.6,"y":-2.7},{"s":"5","l":4,"x":177.3,"y":-0.2},{"s":"5","l":4,"x":180.1,"y":-1.2},{"s":"5","l":4,"x":180.6,"y":-3.8},{"s":"5","l":4,"x":178.6,"y":-5.4},{"s":"5","l":4,"x":176.1,"y":-4.5},
{"s":"6","l":4,"x":191,"y":1.9},{"s":"6","l":4,"x":191.2,"y":1.9},{"s":"6","l":4,"x":191.1,"y":1.6},
{"s":"7","l":4,"x":158.9,"y":-17.7},{"s":"7","l":4,"x":159.1,"y":-17.7},{"s":"7","l":4,"x":159,"y":-18},
{"s":"8","l":4,"x":191,"y":-21.5},{"s":"8","l":4,"x":191.2,"y":-21.5},{"s":"8","l":4,"x":191.1,"y":-21.9},
{"s":"9","l":1,"x":131.8,"y":-9.7},{"s":"9","l":1,"x":132.7,"y":-8.3},{"s":"9","l":1,"x":133,"y":-11},
{"s":"10","l":1,"x":193.4,"y":5.5},{"s":"10","l":1,"x":194.6,"y":12.5},{"s":"10","l":1,"x":196.1,"y":18.4},{"s":"10","l":1,"x":200.1,"y":21.3},{"s":"10","l":1,"x":203.6,"y":19.9},{"s":"10","l":1,"x":205.1,"y":17.3},{"s":"10","l":1,"x":208.6,"y":15.1},{"s":"10","l":1,"x":211.1,"y":11},{"s":"10","l":1,"x":212.1,"y":5.8},{"s":"10","l":1,"x":210.6,"y":1},{"s":"10","l":1,"x":204.1,"y":-1.7},{"s":"10","l":1,"x":199.1,"y":-0.1},{"s":"10","l":1,"x":194.6,"y":5.1},
{"s":"11","l":2,"x":194.3,"y":6.6},{"s":"11","l":2,"x":195.6,"y":13.9},{"s":"11","l":2,"x":197.1,"y":18},{"s":"11","l":2,"x":199.6,"y":20.4},{"s":"11","l":2,"x":202.6,"y":18.4},{"s":"11","l":2,"x":203.1,"y":15.6},{"s":"11","l":2,"x":207.6,"y":14.3},{"s":"11","l":2,"x":210.1,"y":10.6},{"s":"11","l":2,"x":211.1,"y":5.5},{"s":"11","l":2,"x":209.6,"y":1.4},{"s":"11","l":2,"x":203.6,"y":-1.2},{"s":"11","l":2,"x":198.6,"y":0.7},{"s":"11","l":2,"x":195.1,"y":4.7},
{"s":"12","l":3,"x":197.4,"y":6.9},{"s":"12","l":3,"x":198.6,"y":9.5},{"s":"12","l":3,"x":201.1,"y":10.6},{"s":"12","l":3,"x":202.3,"y":8.8},{"s":"12","l":3,"x":204.1,"y":10.4},{"s":"12","l":3,"x":207.1,"y":8.8},{"s":"12","l":3,"x":209.3,"y":5.5},{"s":"12","l":3,"x":208.1,"y":2.5},{"s":"12","l":3,"x":204.1,"y":0.3},{"s":"12","l":3,"x":200.1,"y":1.4},{"s":"12","l":3,"x":198.1,"y":4},
{"s":"13","l":3,"x":198.9,"y":15.6},{"s":"13","l":3,"x":199.9,"y":17.6},{"s":"13","l":3,"x":200.6,"y":15.4},
{"s":"14","l":4,"x":201.4,"y":5.1},{"s":"14","l":4,"x":203.6,"y":7.2},{"s":"14","l":4,"x":206.1,"y":7.3},{"s":"14","l":4,"x":207.1,"y":5.1},{"s":"14","l":4,"x":205.1,"y":2.5},{"s":"14","l":4,"x":202.6,"y":3.6},
{"s":"15","l":1,"x":220.2,"y":26.5},{"s":"15","l":1,"x":221.7,"y":29.4},{"s":"15","l":1,"x":224.2,"y":30.2},{"s":"15","l":1,"x":227.7,"y":28.7},{"s":"15","l":1,"x":228.5,"y":26.5},{"s":"15","l":1,"x":225.7,"y":24.6},{"s":"15","l":1,"x":223.2,"y":23.2},{"s":"15","l":1,"x":220.7,"y":24.4},
{"s":"16","l":2,"x":220.9,"y":26.9},{"s":"16","l":2,"x":222.2,"y":29.1},{"s":"16","l":2,"x":224.4,"y":29.6},{"s":"16","l":2,"x":227,"y":28.3},{"s":"16","l":2,"x":227.4,"y":26.1},{"s":"16","l":2,"x":224.7,"y":24.6},{"s":"16","l":2,"x":222.7,"y":23.7},{"s":"16","l":2,"x":220.7,"y":25},
{"s":"17","l":1,"x":228,"y":10.6},{"s":"17","l":1,"x":233.2,"y":11.7},{"s":"17","l":1,"x":237.2,"y":11},{"s":"17","l":1,"x":240,"y":9.5},{"s":"17","l":1,"x":240,"y":0.5},{"s":"17","l":1,"x":237.2,"y":1},{"s":"17","l":1,"x":232.2,"y":3.2},{"s":"17","l":1,"x":229.2,"y":6.2},
{"s":"18","l":2,"x":228.7,"y":8.8},{"s":"18","l":2,"x":233.2,"y":11},{"s":"18","l":2,"x":237.2,"y":10.3},{"s":"18","l":2,"x":240,"y":8.8},{"s":"18","l":2,"x":240,"y":1},{"s":"18","l":2,"x":237.2,"y":1.8},{"s":"18","l":2,"x":232.7,"y":4},{"s":"18","l":2,"x":229.7,"y":6.6},
{"s":"19","l":3,"x":231.7,"y":7.7},{"s":"19","l":3,"x":234.2,"y":9.4},{"s":"19","l":3,"x":237.7,"y":8.8},{"s":"19","l":3,"x":239.9,"y":5.5},{"s":"19","l":3,"x":238.7,"y":2.5},{"s":"19","l":3,"x":236.7,"y":3},{"s":"19","l":3,"x":233.2,"y":5.1},
{"s":"20","l":1,"x":190.6,"y":-9.1},{"s":"20","l":1,"x":192.6,"y":-6.7},{"s":"20","l":1,"x":195.1,"y":-7.1},{"s":"20","l":1,"x":198.8,"y":-10.8},{"s":"20","l":1,"x":197.9,"y":-13.4},{"s":"20","l":1,"x":195.6,"y":-14.2},{"s":"20","l":1,"x":192.6,"y":-11.9},
{"s":"21","l":2,"x":191.3,"y":-9.1},{"s":"21","l":2,"x":193.1,"y":-7.3},{"s":"21","l":2,"x":195.1,"y":-7.8},{"s":"21","l":2,"x":198.1,"y":-10.8},{"s":"21","l":2,"x":197.1,"y":-13},{"s":"21","l":2,"x":195.6,"y":-13.5},{"s":"21","l":2,"x":193.1,"y":-11.5},
{"s":"22","l":3,"x":192.8,"y":-10},{"s":"22","l":3,"x":194.4,"y":-8},{"s":"22","l":3,"x":196.3,"y":-10.8},{"s":"22","l":3,"x":194.9,"y":-12.6},
{"s":"23","l":1,"x":226,"y":-8.9},{"s":"23","l":1,"x":226.7,"y":-5.8},{"s":"23","l":1,"x":229.7,"y":-8.2},{"s":"23","l":1,"x":231.4,"y":-11.9},{"s":"23","l":1,"x":228.7,"y":-15.3},{"s":"23","l":1,"x":226.7,"y":-11.5},
{"s":"24","l":1,"x":234.5,"y":-30.3},{"s":"24","l":1,"x":236.2,"y":-27.7},{"s":"24","l":1,"x":239.2,"y":-26.9},{"s":"24","l":1,"x":240,"y":-26.9},{"s":"24","l":1,"x":240,"y":-35.7},{"s":"24","l":1,"x":237.2,"y":-34.4},
{"s":"25","l":2,"x":237.2,"y":-30.3},{"s":"25","l":2,"x":239.2,"y":-28.9},{"s":"25","l":2,"x":240,"y":-28.9},{"s":"25","l":2,"x":240,"y":-33.5},{"s":"25","l":2,"x":238.7,"y":-32.9},
{"s":"26","l":3,"x":238.3,"y":-30.7},{"s":"26","l":3,"x":240,"y":-29.7},{"s":"26","l":3,"x":240,"y":-32.5}],
"F":[
{"s":"1","l":1,"x":167.8,"y":-0.8},{"s":"1","l":1,"x":169.4,"y":2.1},{"s":"1","l":1,"x":172.4,"y":2.9},{"s":"1","l":1,"x":178.6,"y":1.8},{"s":"1","l":1,"x":181.6,"y":-0.1},{"s":"1","l":1,"x":182,"y":-3},{"s":"1","l":1,"x":179.7,"y":-5.6},{"s":"1","l":1,"x":174,"y":-4.9},{"s":"1","l":1,"x":168.6,"y":-4.1},
{"s":"2","l":2,"x":168.2,"y":-0.8},{"s":"2","l":2,"x":169.7,"y":1.8},{"s":"2","l":2,"x":172.4,"y":2.2},{"s":"2","l":2,"x":178.2,"y":1},{"s":"2","l":2,"x":181,"y":-0.4},{"s":"2","l":2,"x":181,"y":-3.8},{"s":"2","l":2,"x":178.6,"y":-4.9},{"s":"2","l":2,"x":174,"y":-4.5},{"s":"2","l":2,"x":169,"y":-3.4},
{"s":"3","l":3,"x":169.4,"y":-0.7},{"s":"3","l":3,"x":170.9,"y":1},{"s":"3","l":3,"x":174.3,"y":1.5},{"s":"3","l":3,"x":178.2,"y":-0.1},{"s":"3","l":3,"x":178.6,"y":-2.3},{"s":"3","l":3,"x":175.5,"y":-3.8},{"s":"3","l":3,"x":172.1,"y":-3.2},{"s":"3","l":3,"x":170.1,"y":-2.3},
{"s":"4","l":4,"x":173.2,"y":-1.5},{"s":"4","l":4,"x":174.9,"y":-0.6},{"s":"4","l":4,"x":177,"y":-1.7},{"s":"4","l":4,"x":175.1,"y":-2.7},
{"s":"5","l":1,"x":179.3,"y":-10.8},{"s":"5","l":1,"x":182.4,"y":-7.5},{"s":"5","l":1,"x":182.8,"y":-2.3},{"s":"5","l":1,"x":183.5,"y":-0.1},{"s":"5","l":1,"x":187,"y":-1.5},{"s":"5","l":1,"x":190,"y":-3.8},{"s":"5","l":1,"x":192.3,"y":-8.9},{"s":"5","l":1,"x":190.4,"y":-11.5},{"s":"5","l":1,"x":188.1,"y":-13.4},{"s":"5","l":1,"x":187.7,"y":-17.4},{"s":"5","l":1,"x":185.4,"y":-15.2},{"s":"5","l":1,"x":182,"y":-14.5},
{"s":"6","l":2,"x":180.1,"y":-11.5},{"s":"6","l":2,"x":182.8,"y":-6.7},{"s":"6","l":2,"x":182.8,"y":-3},{"s":"6","l":2,"x":184.7,"y":-2.1},{"s":"6","l":2,"x":187.7,"y":-2.7},{"s":"6","l":2,"x":190.8,"y":-5.2},{"s":"6","l":2,"x":192,"y":-8.9},{"s":"6","l":2,"x":190,"y":-11.1},{"s":"6","l":2,"x":187.4,"y":-12.6},{"s":"6","l":2,"x":183.1,"y":-13.7},
{"s":"7","l":3,"x":182,"y":-10.4},{"s":"7","l":3,"x":185.1,"y":-4.5},{"s":"7","l":3,"x":188.5,"y":-4.1},{"s":"7","l":3,"x":191.2,"y":-6.7},{"s":"7","l":3,"x":191.6,"y":-9.3},{"s":"7","l":3,"x":189.6,"y":-10.8},{"s":"7","l":3,"x":187.7,"y":-12.6},{"s":"7","l":3,"x":183.9,"y":-11.9},
{"s":"8","l":4,"x":185.1,"y":-7.8},{"s":"8","l":4,"x":186.6,"y":-6},{"s":"8","l":4,"x":188.9,"y":-6.7},{"s":"8","l":4,"x":190,"y":-8.6},{"s":"8","l":4,"x":187.7,"y":-11},{"s":"8","l":4,"x":185.8,"y":-9.7},
{"s":"9","l":1,"x":157.9,"y":-5.6},{"s":"9","l":1,"x":160.6,"y":-3.5},{"s":"9","l":1,"x":162.9,"y":-3.5},{"s":"9","l":1,"x":165.6,"y":-5.2},{"s":"9","l":1,"x":164.8,"y":-9.1},{"s":"9","l":1,"x":160.6,"y":-8.9},{"s":"9","l":1,"x":159.4,"y":-6.7},
{"s":"10","l":2,"x":159,"y":-5.8},{"s":"10","l":2,"x":161.3,"y":-4.4},{"s":"10","l":2,"x":162.9,"y":-4.5},{"s":"10","l":2,"x":164.4,"y":-6.1},{"s":"10","l":2,"x":164,"y":-7.5},{"s":"10","l":2,"x":161,"y":-7.5},
{"s":"11","l":1,"x":131.5,"y":-5.2},{"s":"11","l":1,"x":132.7,"y":-3.5},{"s":"11","l":1,"x":134.4,"y":-3.6},{"s":"11","l":1,"x":135.3,"y":-5.5},{"s":"11","l":1,"x":134.4,"y":-7.3},{"s":"11","l":1,"x":132.7,"y":-6.3},
{"s":"12","l":1,"x":139.2,"y":-10.8},{"s":"12","l":1,"x":148.3,"y":-10.8},{"s":"12","l":1,"x":147.2,"y":-11.3},{"s":"12","l":1,"x":140,"y":-11},
{"s":"13","l":1,"x":135.6,"y":-12.6},{"s":"13","l":1,"x":136.1,"y":-12.1},{"s":"13","l":1,"x":136.6,"y":-12.6},{"s":"13","l":1,"x":136.1,"y":-13.1},
{"s":"14","l":4,"x":156.6,"y":-12.6},{"s":"14","l":4,"x":157.5,"y":-12.4},{"s":"14","l":4,"x":157.5,"y":-12.8},
{"s":"15","l":1,"x":168,"y":-12},{"s":"15","l":1,"x":169.1,"y":-12.6},{"s":"15","l":1,"x":168,"y":-13},
{"s":"16","l":4,"x":153.7,"y":-10.7},{"s":"16","l":4,"x":153.9,"y":-10.7},{"s":"16","l":4,"x":153.8,"y":-11},
{"s":"17","l":1,"x":226.4,"y":28.3},{"s":"17","l":1,"x":228.3,"y":31.7},{"s":"17","l":1,"x":231,"y":32.9},{"s":"17","l":1,"x":233.6,"y":31.7},{"s":"17","l":1,"x":235.3,"y":29.8},{"s":"17","l":1,"x":234.8,"y":28},{"s":"17","l":1,"x":231.3,"y":26.3},{"s":"17","l":1,"x":227.5,"y":26.3},
{"s":"18","l":2,"x":227,"y":28.7},{"s":"18","l":2,"x":228.7,"y":31.1},{"s":"18","l":2,"x":231.3,"y":32},{"s":"18","l":2,"x":233.6,"y":30.2},{"s":"18","l":2,"x":233.6,"y":28.7},{"s":"18","l":2,"x":231.3,"y":26.9},{"s":"18","l":2,"x":227.9,"y":26.9},
{"s":"19","l":1,"x":202.5,"y":14.7},{"s":"19","l":1,"x":203.8,"y":19.9},{"s":"19","l":1,"x":206.9,"y":23.9},{"s":"19","l":1,"x":212.2,"y":24.9},{"s":"19","l":1,"x":214.1,"y":22.8},{"s":"19","l":1,"x":218.9,"y":21.3},{"s":"19","l":1,"x":219.3,"y":14.3},{"s":"19","l":1,"x":218,"y":12.8},{"s":"19","l":1,"x":214.5,"y":15.8},{"s":"19","l":1,"x":209.9,"y":15.4},{"s":"19","l":1,"x":207.6,"y":12.5},{"s":"19","l":1,"x":205.3,"y":8.8},{"s":"19","l":1,"x":203.4,"y":9.4},
{"s":"20","l":2,"x":203.8,"y":16.5},{"s":"20","l":2,"x":204.6,"y":19.9},{"s":"20","l":2,"x":207.6,"y":22.8},{"s":"20","l":2,"x":208.8,"y":23.5},{"s":"20","l":2,"x":212.2,"y":22.4},{"s":"20","l":2,"x":215.8,"y":19.5},{"s":"20","l":2,"x":215.2,"y":17.6},{"s":"20","l":2,"x":211.5,"y":16.5},{"s":"20","l":2,"x":208.4,"y":15.1},{"s":"20","l":2,"x":205.3,"y":12.6},{"s":"20","l":2,"x":203.8,"y":14.3},
{"s":"21","l":3,"x":206.1,"y":17.6},{"s":"21","l":3,"x":207,"y":19.7},{"s":"21","l":3,"x":209.5,"y":20},{"s":"21","l":3,"x":209.9,"y":18},{"s":"21","l":3,"x":207,"y":15.8},
{"s":"22","l":1,"x":204.6,"y":4.4},{"s":"22","l":1,"x":205.7,"y":6.7},{"s":"22","l":1,"x":209.9,"y":7.3},{"s":"22","l":1,"x":214.5,"y":9.5},{"s":"22","l":1,"x":216.8,"y":8},{"s":"22","l":1,"x":217.7,"y":3.6},{"s":"22","l":1,"x":216.8,"y":-0.1},{"s":"22","l":1,"x":212.6,"y":-2.3},{"s":"22","l":1,"x":207.6,"y":-0.4},{"s":"22","l":1,"x":204.9,"y":-0.1},
{"s":"23","l":2,"x":206.5,"y":2.5},{"s":"23","l":2,"x":206.5,"y":4.7},{"s":"23","l":2,"x":209.9,"y":7.3},{"s":"23","l":2,"x":214.1,"y":8.8},{"s":"23","l":2,"x":216.8,"y":6.9},{"s":"23","l":2,"x":217.6,"y":3.2},{"s":"23","l":2,"x":216,"y":-0.4},{"s":"23","l":2,"x":212.2,"y":-1.7},{"s":"23","l":2,"x":208,"y":-0.1},
{"s":"24","l":3,"x":208.9,"y":3.6},{"s":"24","l":3,"x":209.9,"y":6.2},{"s":"24","l":3,"x":212.6,"y":6.9},{"s":"24","l":3,"x":215.7,"y":5.1},{"s":"24","l":3,"x":216.2,"y":2.1},{"s":"24","l":3,"x":214.1,"y":-0.4},{"s":"24","l":3,"x":211.1,"y":-0.8},{"s":"24","l":3,"x":209.2,"y":1},
{"s":"25","l":4,"x":211.5,"y":3.6},{"s":"25","l":4,"x":212.8,"y":4.9},{"s":"25","l":4,"x":214.4,"y":3.2},{"s":"25","l":4,"x":213,"y":1.2},{"s":"25","l":4,"x":212,"y":2.1},
{"s":"26","l":1,"x":233.5,"y":13.9},{"s":"26","l":1,"x":236.7,"y":14.8},{"s":"26","l":1,"x":240,"y":14.8},{"s":"26","l":1,"x":240,"y":6.2},{"s":"26","l":1,"x":237.5,"y":7.3},{"s":"26","l":1,"x":234.8,"y":10.3},
{"s":"27","l":2,"x":234.8,"y":13.2},{"s":"27","l":2,"x":237.1,"y":14.3},{"s":"27","l":2,"x":240,"y":14.3},{"s":"27","l":2,"x":240,"y":6.9},{"s":"27","l":2,"x":237.5,"y":8},{"s":"27","l":2,"x":235.5,"y":11},
{"s":"28","l":3,"x":237.5,"y":11},{"s":"28","l":3,"x":239.6,"y":13.2},{"s":"28","l":3,"x":240,"y":8.4},{"s":"28","l":3,"x":238.2,"y":9.5},
{"s":"29","l":1,"x":192.7,"y":-17.9},{"s":"29","l":1,"x":195,"y":-13.2},{"s":"29","l":1,"x":196.3,"y":-14.5},{"s":"29","l":1,"x":195.8,"y":-17.4},{"s":"29","l":1,"x":193.9,"y":-18.5},
{"s":"30","l":2,"x":193.3,"y":-17.7},{"s":"30","l":2,"x":195,"y":-14.5},{"s":"30","l":2,"x":196.2,"y":-15.6},{"s":"30","l":2,"x":194.6,"y":-18.2},
{"s":"31","l":1,"x":198.2,"y":-12.6},{"s":"31","l":1,"x":201.9,"y":-8.8},{"s":"31","l":1,"x":207.2,"y":-13},{"s":"31","l":1,"x":206.9,"y":-15.2},{"s":"31","l":1,"x":203.8,"y":-16.8},{"s":"31","l":1,"x":200,"y":-14.5},
{"s":"32","l":2,"x":198.8,"y":-12.6},{"s":"32","l":2,"x":201.9,"y":-9.5},{"s":"32","l":2,"x":206.5,"y":-13},{"s":"32","l":2,"x":206.1,"y":-14.8},{"s":"32","l":2,"x":203.4,"y":-15.9},{"s":"32","l":2,"x":200,"y":-13.7},
{"s":"33","l":3,"x":200.7,"y":-12},{"s":"33","l":3,"x":202.3,"y":-11.3},{"s":"33","l":3,"x":204.3,"y":-13},{"s":"33","l":3,"x":203.8,"y":-14.5},{"s":"33","l":3,"x":201.9,"y":-14.5}],
"G":[
{"s":"1","l":1,"x":179.2,"y":5.1},{"s":"1","l":1,"x":180.1,"y":7.3},{"s":"1","l":1,"x":183.8,"y":8.2},{"s":"1","l":1,"x":186.9,"y":7.2},{"s":"1","l":1,"x":187.6,"y":4.7},{"s":"1","l":1,"x":186.5,"y":-0.1},{"s":"1","l":1,"x":187.6,"y":-2.3},{"s":"1","l":1,"x":189.5,"y":-3.4},{"s":"1","l":1,"x":192.5,"y":-0.7},{"s":"1","l":1,"x":195.2,"y":-2.3},{"s":"1","l":1,"x":197.8,"y":-6.7},{"s":"1","l":1,"x":199,"y":-10.8},{"s":"1","l":1,"x":198.2,"y":-13},{"s":"1","l":1,"x":194.8,"y":-15.4},{"s":"1","l":1,"x":191.4,"y":-14.8},{"s":"1","l":1,"x":188.4,"y":-13},{"s":"1","l":1,"x":187.3,"y":-8.9},{"s":"1","l":1,"x":185,"y":-6},{"s":"1","l":1,"x":183.8,"y":-1.5},{"s":"1","l":1,"x":184.2,"y":-0.1},{"s":"1","l":1,"x":180.1,"y":2.9},
{"s":"2","l":2,"x":180.4,"y":5.1},{"s":"2","l":2,"x":182.1,"y":6.8},{"s":"2","l":2,"x":184.8,"y":6.8},{"s":"2","l":2,"x":186.6,"y":4.7},{"s":"2","l":2,"x":185.7,"y":1.4},{"s":"2","l":2,"x":184.2,"y":0.8},{"s":"2","l":2,"x":180.4,"y":3.2},
{"s":"3","l":2,"x":184.8,"y":-1.5},{"s":"3","l":2,"x":189.5,"y":-3.8},{"s":"3","l":2,"x":192.5,"y":-1.2},{"s":"3","l":2,"x":194.8,"y":-2.7},{"s":"3","l":2,"x":197.5,"y":-7.1},{"s":"3","l":2,"x":198.6,"y":-10.4},{"s":"3","l":2,"x":197.5,"y":-13.4},{"s":"3","l":2,"x":194.8,"y":-14.7},{"s":"3","l":2,"x":191.4,"y":-14.2},{"s":"3","l":2,"x":188.4,"y":-12.3},{"s":"3","l":2,"x":187.3,"y":-8.2},{"s":"3","l":2,"x":185.7,"y":-6},
{"s":"4","l":3,"x":188,"y":-5.6},{"s":"4","l":3,"x":190.3,"y":-4.1},{"s":"4","l":3,"x":192.9,"y":-1.9},{"s":"4","l":3,"x":195.6,"y":-5.2},{"s":"4","l":3,"x":197.5,"y":-8.9},{"s":"4","l":3,"x":197.5,"y":-12.6},{"s":"4","l":3,"x":194.4,"y":-14.8},{"s":"4","l":3,"x":191.4,"y":-14.1},{"s":"4","l":3,"x":188.5,"y":-11.9},
{"s":"5","l":4,"x":190,"y":-7.5},{"s":"5","l":4,"x":192.9,"y":-3},{"s":"5","l":4,"x":195.2,"y":-5.6},{"s":"5","l":4,"x":196.6,"y":-8.9},{"s":"5","l":4,"x":195.9,"y":-11.5},{"s":"5","l":4,"x":194.1,"y":-13.4},{"s":"5","l":4,"x":191.8,"y":-13},{"s":"5","l":4,"x":190.3,"y":-10.4},
{"s":"6","l":1,"x":131.7,"y":1.8},{"s":"6","l":1,"x":134.3,"y":3.8},{"s":"6","l":1,"x":134.9,"y":1},{"s":"6","l":1,"x":134,"y":0.1},
{"s":"7","l":1,"x":135.2,"y":-3.8},{"s":"7","l":1,"x":136.2,"y":-2.8},{"s":"7","l":1,"x":137.2,"y":-4},{"s":"7","l":1,"x":136.1,"y":-6.1},{"s":"7","l":1,"x":135.3,"y":-5.6},
{"s":"8","l":4,"x":147.7,"y":-3.5},{"s":"8","l":4,"x":148.9,"y":-3.6},{"s":"8","l":4,"x":148.2,"y":-3.9},
{"s":"9","l":4,"x":139.5,"y":-1.7},{"s":"9","l":4,"x":139.9,"y":-1.7},{"s":"9","l":4,"x":139.7,"y":-1.9},
{"s":"10","l":1,"x":151.7,"y":-2.1},{"s":"10","l":1,"x":153.8,"y":-1},{"s":"10","l":1,"x":155.5,"y":-3},{"s":"10","l":1,"x":157.6,"y":-3.8},{"s":"10","l":1,"x":157.6,"y":-5.6},{"s":"10","l":1,"x":155.5,"y":-6},{"s":"10","l":1,"x":154,"y":-3.4},
{"s":"11","l":2,"x":155.1,"y":-5.6},{"s":"11","l":2,"x":155.7,"y":-4.9},{"s":"11","l":2,"x":156.5,"y":-5.8},
{"s":"12","l":1,"x":163.6,"y":-0.1},{"s":"12","l":1,"x":168.4,"y":0.3},{"s":"12","l":1,"x":171.4,"y":-2.3},{"s":"12","l":1,"x":173.9,"y":-3.8},{"s":"12","l":1,"x":171.8,"y":-6},{"s":"12","l":1,"x":169.1,"y":-8.2},{"s":"12","l":1,"x":166.5,"y":-7.5},{"s":"12","l":1,"x":164.2,"y":-5.6},{"s":"12","l":1,"x":164.8,"y":-3.8},
{"s":"13","l":2,"x":166.1,"y":-2.7},{"s":"13","l":2,"x":168.2,"y":-0.8},{"s":"13","l":2,"x":170.9,"y":-3.4},{"s":"13","l":2,"x":169.5,"y":-5.6},{"s":"13","l":2,"x":168.4,"y":-7.5},{"s":"13","l":2,"x":165.7,"y":-5.6},{"s":"13","l":2,"x":167.2,"y":-3.8},
{"s":"14","l":1,"x":214.2,"y":15.1},{"s":"14","l":1,"x":215.2,"y":21.3},{"s":"14","l":1,"x":219.4,"y":27.6},{"s":"14","l":1,"x":222.8,"y":30},{"s":"14","l":1,"x":228.5,"y":30},{"s":"14","l":1,"x":232.6,"y":28.3},{"s":"14","l":1,"x":234.9,"y":22.8},{"s":"14","l":1,"x":233.7,"y":21.7},{"s":"14","l":1,"x":228.5,"y":21.3},{"s":"14","l":1,"x":224.7,"y":19.9},{"s":"14","l":1,"x":221.6,"y":17.6},{"s":"14","l":1,"x":217.1,"y":14.3},{"s":"14","l":1,"x":214.8,"y":13.9},
{"s":"15","l":2,"x":216.1,"y":18.4},{"s":"15","l":2,"x":216.7,"y":22.1},{"s":"15","l":2,"x":220.9,"y":27},{"s":"15","l":2,"x":222.8,"y":28.3},{"s":"15","l":2,"x":228.5,"y":29},{"s":"15","l":2,"x":231.9,"y":27.6},{"s":"15","l":2,"x":233.2,"y":24.3},{"s":"15","l":2,"x":232.3,"y":22.8},{"s":"15","l":2,"x":227.7,"y":22.1},{"s":"15","l":2,"x":223.9,"y":21.3},{"s":"15","l":2,"x":221.6,"y":18},{"s":"15","l":2,"x":217.7,"y":15.6},
{"s":"16","l":1,"x":234.9,"y":31.3},{"s":"16","l":1,"x":236.4,"y":34.2},{"s":"16","l":1,"x":240,"y":36.1},{"s":"16","l":1,"x":240,"y":28.7},{"s":"16","l":1,"x":237.2,"y":28.7},{"s":"16","l":1,"x":235.3,"y":29.4},
{"s":"17","l":2,"x":235.8,"y":31.3},{"s":"17","l":2,"x":237.2,"y":33.9},{"s":"17","l":2,"x":240,"y":35},{"s":"17","l":2,"x":240,"y":29},{"s":"17","l":2,"x":236.8,"y":29.8},
{"s":"18","l":1,"x":216.6,"y":0.7},{"s":"18","l":1,"x":218.2,"y":3.2},{"s":"18","l":1,"x":223.5,"y":5.1},{"s":"18","l":1,"x":228.1,"y":4.4},{"s":"18","l":1,"x":228.5,"y":-0.1},{"s":"18","l":1,"x":226.9,"y":-3},{"s":"18","l":1,"x":223.2,"y":-5.1},{"s":"18","l":1,"x":219,"y":-3.4},{"s":"18","l":1,"x":217,"y":-1.5},
{"s":"19","l":2,"x":217.7,"y":0.7},{"s":"19","l":2,"x":219.4,"y":3.2},{"s":"19","l":2,"x":223.5,"y":4.7},{"s":"19","l":2,"x":227.3,"y":3.6},{"s":"19","l":2,"x":228.1,"y":-0.1},{"s":"19","l":2,"x":226.6,"y":-2.7},{"s":"19","l":2,"x":223.2,"y":-4.5},{"s":"19","l":2,"x":219.8,"y":-3},{"s":"19","l":2,"x":217.9,"y":-1.2},
{"s":"20","l":3,"x":219.9,"y":0.3},{"s":"20","l":3,"x":221.2,"y":2.5},{"s":"20","l":3,"x":223.9,"y":3.2},{"s":"20","l":3,"x":226.2,"y":1.8},{"s":"20","l":3,"x":225.4,"y":-1.2},{"s":"20","l":3,"x":223.2,"y":-3.2},{"s":"20","l":3,"x":220.9,"y":-2.1},
{"s":"21","l":1,"x":207.4,"y":-14.5},{"s":"21","l":1,"x":211,"y":-13.2},{"s":"21","l":1,"x":216.4,"y":-13.4},{"s":"21","l":1,"x":219.5,"y":-15.9},{"s":"21","l":1,"x":219.3,"y":-18.5},{"s":"21","l":1,"x":215.6,"y":-21.1},{"s":"21","l":1,"x":212.6,"y":-20},{"s":"21","l":1,"x":208.8,"y":-17},
{"s":"22","l":2,"x":209,"y":-15.9},{"s":"22","l":2,"x":211.8,"y":-13.9},{"s":"22","l":2,"x":215.6,"y":-13.9},{"s":"22","l":2,"x":218.2,"y":-16.3},{"s":"22","l":2,"x":218.2,"y":-18.5},{"s":"22","l":2,"x":215.2,"y":-20.4},{"s":"22","l":2,"x":212.2,"y":-19.3},
{"s":"23","l":3,"x":211.8,"y":-16.3},{"s":"23","l":3,"x":214,"y":-15.2},{"s":"23","l":3,"x":215.9,"y":-16.3},{"s":"23","l":3,"x":215.9,"y":-17.8},{"s":"23","l":3,"x":214,"y":-19.1},{"s":"23","l":3,"x":212.2,"y":-18.2},
{"s":"24","l":1,"x":198.7,"y":-23.3},{"s":"24","l":1,"x":201.6,"y":-19.6},{"s":"24","l":1,"x":203.7,"y":-19.3},{"s":"24","l":1,"x":202,"y":-24.1},{"s":"24","l":1,"x":199.7,"y":-25.4},
{"s":"25","l":2,"x":199.7,"y":-22.2},{"s":"25","l":2,"x":202,"y":-20.4},{"s":"25","l":2,"x":202.5,"y":-22.2},{"s":"25","l":2,"x":200.9,"y":-23.7}],
"H":[
{"s":"1","l":1,"x":160.4,"y":13.9},{"s":"1","l":1,"x":164.5,"y":15.6},{"s":"1","l":1,"x":165.1,"y":13.9},{"s":"1","l":1,"x":162.6,"y":11.9},{"s":"1","l":1,"x":161.4,"y":12.5},
{"s":"2","l":3,"x":163.7,"y":14.2},{"s":"2","l":3,"x":164.7,"y":14.1},{"s":"2","l":3,"x":164.1,"y":13.7},
{"s":"3","l":1,"x":176.8,"y":11.4},{"s":"3","l":1,"x":178.7,"y":14.8},{"s":"3","l":1,"x":181.4,"y":14.8},{"s":"3","l":1,"x":183.5,"y":12.5},{"s":"3","l":1,"x":182.2,"y":10.6},{"s":"3","l":1,"x":179.5,"y":11.9},{"s":"3","l":1,"x":177.2,"y":11.2},
{"s":"4","l":1,"x":186.4,"y":11},{"s":"4","l":1,"x":188,"y":12.8},{"s":"4","l":1,"x":191.8,"y":13.6},{"s":"4","l":1,"x":194,"y":12.1},{"s":"4","l":1,"x":194.1,"y":10.6},{"s":"4","l":1,"x":190.7,"y":9.5},{"s":"4","l":1,"x":188,"y":8.6},
{"s":"5","l":2,"x":188.9,"y":10.5},{"s":"5","l":2,"x":189.5,"y":11.1},{"s":"5","l":2,"x":190.1,"y":10.5},{"s":"5","l":2,"x":189.4,"y":10.1},
{"s":"6","l":1,"x":194.1,"y":9.2},{"s":"6","l":1,"x":197.2,"y":9.7},{"s":"6","l":1,"x":197.6,"y":7.3},{"s":"6","l":1,"x":194.9,"y":5.1},{"s":"6","l":1,"x":192.8,"y":5.1},
{"s":"7","l":1,"x":131.5,"y":5.2},{"s":"7","l":1,"x":132.5,"y":6.1},{"s":"7","l":1,"x":133.5,"y":5.1},{"s":"7","l":1,"x":132.5,"y":4.4},
{"s":"8","l":1,"x":145.6,"y":1.5},{"s":"8","l":1,"x":146.8,"y":3.4},{"s":"8","l":1,"x":149.5,"y":3.8},{"s":"8","l":1,"x":151.8,"y":3.4},{"s":"8","l":1,"x":148.7,"y":2.9},{"s":"8","l":1,"x":147.2,"y":1.3},
{"s":"9","l":1,"x":153.5,"y":1.8},{"s":"9","l":1,"x":155.6,"y":2.1},{"s":"9","l":1,"x":155.9,"y":1.4},{"s":"9","l":1,"x":153.7,"y":1.4},
{"s":"10","l":1,"x":162.3,"y":2},{"s":"10","l":1,"x":162.6,"y":2.5},{"s":"10","l":1,"x":162.9,"y":2},{"s":"10","l":1,"x":162.6,"y":1.4},
{"s":"11","l":1,"x":157.4,"y":-5.8},{"s":"11","l":1,"x":159.3,"y":-5.2},{"s":"11","l":1,"x":159.5,"y":-6.6},
{"s":"12","l":1,"x":164.7,"y":-0.1},{"s":"12","l":1,"x":166.4,"y":1.4},{"s":"12","l":1,"x":168,"y":5.5},{"s":"12","l":1,"x":170.3,"y":6.7},{"s":"12","l":1,"x":172.6,"y":6.2},{"s":"12","l":1,"x":174.5,"y":2.1},{"s":"12","l":1,"x":179.1,"y":-0.8},{"s":"12","l":1,"x":179.9,"y":1.8},{"s":"12","l":1,"x":181.8,"y":2.3},{"s":"12","l":1,"x":185.3,"y":-0.1},{"s":"12","l":1,"x":182.6,"y":-3.8},{"s":"12","l":1,"x":179.5,"y":-6.3},{"s":"12","l":1,"x":175.7,"y":-7.2},{"s":"12","l":1,"x":169.5,"y":-6.7},{"s":"12","l":1,"x":167.2,"y":-5.6},{"s":"12","l":1,"x":166.4,"y":-1.2},
{"s":"13","l":2,"x":166.4,"y":-1.2},{"s":"13","l":2,"x":168,"y":2.1},{"s":"13","l":2,"x":171.4,"y":3.2},{"s":"13","l":2,"x":173.4,"y":2.1},{"s":"13","l":2,"x":178.7,"y":-1.2},{"s":"13","l":2,"x":181.4,"y":-1.5},{"s":"13","l":2,"x":181,"y":-3.8},{"s":"13","l":2,"x":177.6,"y":-6},{"s":"13","l":2,"x":169.5,"y":-6.3},{"s":"13","l":2,"x":167.2,"y":-4.5},
{"s":"14","l":3,"x":168.6,"y":-3},{"s":"14","l":3,"x":169.9,"y":-1.4},{"s":"14","l":3,"x":174.5,"y":-1.5},{"s":"14","l":3,"x":177.4,"y":-3.4},{"s":"14","l":3,"x":175.7,"y":-4.7},{"s":"14","l":3,"x":169.5,"y":-4.4},
{"s":"15","l":1,"x":190.9,"y":-5.6},{"s":"15","l":1,"x":193.7,"y":-4.9},{"s":"15","l":1,"x":197.2,"y":-2.3},{"s":"15","l":1,"x":201.1,"y":-0.8},{"s":"15","l":1,"x":205.3,"y":-1.5},{"s":"15","l":1,"x":207.4,"y":-4.5},{"s":"15","l":1,"x":206.8,"y":-8.9},{"s":"15","l":1,"x":202.6,"y":-12.3},{"s":"15","l":1,"x":196.8,"y":-15.2},{"s":"15","l":1,"x":194.1,"y":-12.6},{"s":"15","l":1,"x":192.2,"y":-8.9},
{"s":"16","l":2,"x":192.3,"y":-8.2},{"s":"16","l":2,"x":194.5,"y":-4.9},{"s":"16","l":2,"x":197.6,"y":-2.7},{"s":"16","l":2,"x":201.1,"y":-1},{"s":"16","l":2,"x":205.3,"y":-2.1},{"s":"16","l":2,"x":207,"y":-4.9},{"s":"16","l":2,"x":206.3,"y":-8.6},{"s":"16","l":2,"x":202.2,"y":-11.9},{"s":"16","l":2,"x":196.8,"y":-14.5},{"s":"16","l":2,"x":194.5,"y":-11.5},
{"s":"17","l":3,"x":193.7,"y":-8.2},{"s":"17","l":3,"x":195.7,"y":-4.5},{"s":"17","l":3,"x":199.5,"y":-1.9},{"s":"17","l":3,"x":204.1,"y":-1.9},{"s":"17","l":3,"x":206.5,"y":-5.2},{"s":"17","l":3,"x":205.7,"y":-8.6},{"s":"17","l":3,"x":201.4,"y":-11.5},{"s":"17","l":3,"x":196.8,"y":-13},{"s":"17","l":3,"x":194.5,"y":-10.8},
{"s":"18","l":4,"x":195.1,"y":-8.2},{"s":"18","l":4,"x":196.4,"y":-5.6},{"s":"18","l":4,"x":200.3,"y":-3.2},{"s":"18","l":4,"x":203.8,"y":-3.4},{"s":"18","l":4,"x":205.7,"y":-6},{"s":"18","l":4,"x":204.9,"y":-8.6},{"s":"18","l":4,"x":200.7,"y":-10},{"s":"18","l":4,"x":196.8,"y":-11},{"s":"18","l":4,"x":195.3,"y":-9.7},
{"s":"19","l":1,"x":228,"y":20.6},{"s":"19","l":1,"x":230.3,"y":25.4},{"s":"19","l":1,"x":234.9,"y":28},{"s":"19","l":1,"x":240,"y":29.4},{"s":"19","l":1,"x":240,"y":23.7},{"s":"19","l":1,"x":236.1,"y":23.7},{"s":"19","l":1,"x":234.6,"y":21},{"s":"19","l":1,"x":232.2,"y":18.5},{"s":"19","l":1,"x":228.4,"y":19.3},
{"s":"20","l":2,"x":236.5,"y":26.3},{"s":"20","l":2,"x":240,"y":28.3},{"s":"20","l":2,"x":240,"y":24.6},
{"s":"21","l":1,"x":226.7,"y":-1.5},{"s":"21","l":1,"x":228,"y":1},{"s":"21","l":1,"x":231.9,"y":2.3},{"s":"21","l":1,"x":238,"y":2.3},{"s":"21","l":1,"x":238.4,"y":-2.3},{"s":"21","l":1,"x":236.9,"y":-5.6},{"s":"21","l":1,"x":233.8,"y":-7.3},{"s":"21","l":1,"x":230.3,"y":-6.3},{"s":"21","l":1,"x":227.2,"y":-3.8},
{"s":"22","l":2,"x":227.5,"y":-1.9},{"s":"22","l":2,"x":229.2,"y":0.7},{"s":"22","l":2,"x":232.6,"y":1.5},{"s":"22","l":2,"x":237.6,"y":1.3},{"s":"22","l":2,"x":238,"y":-2.3},{"s":"22","l":2,"x":236.1,"y":-5.6},{"s":"22","l":2,"x":233.4,"y":-6.7},{"s":"22","l":2,"x":230.3,"y":-5.6},
{"s":"23","l":3,"x":229.6,"y":-2.3},{"s":"23","l":3,"x":231.1,"y":-0.4},{"s":"23","l":3,"x":234.6,"y":0.1},{"s":"23","l":3,"x":235.2,"y":-1.9},{"s":"23","l":3,"x":233,"y":-4.1},{"s":"23","l":3,"x":230.7,"y":-3.8},
{"s":"24","l":1,"x":218.6,"y":-21.3},{"s":"24","l":1,"x":220.3,"y":-17.8},{"s":"24","l":1,"x":223.8,"y":-16.5},{"s":"24","l":1,"x":229.2,"y":-17.8},{"s":"24","l":1,"x":230.3,"y":-20},{"s":"24","l":1,"x":229.2,"y":-22.6},{"s":"24","l":1,"x":224.9,"y":-24.8},{"s":"24","l":1,"x":222.2,"y":-23.3},
{"s":"25","l":2,"x":220.9,"y":-20},{"s":"25","l":2,"x":222.6,"y":-17.8},{"s":"25","l":2,"x":225.3,"y":-17},{"s":"25","l":2,"x":229.2,"y":-18.5},{"s":"25","l":2,"x":229.6,"y":-20.7},{"s":"25","l":2,"x":226.5,"y":-23.8},{"s":"25","l":2,"x":223,"y":-23},
{"s":"26","l":3,"x":223.2,"y":-20},{"s":"26","l":3,"x":225.1,"y":-18.3},{"s":"26","l":3,"x":227.2,"y":-19.3},{"s":"26","l":3,"x":226.9,"y":-21.5},{"s":"26","l":3,"x":224.1,"y":-21.8},
{"s":"27","l":1,"x":203.9,"y":-26.9},{"s":"27","l":1,"x":207.6,"y":-23},{"s":"27","l":1,"x":211.8,"y":-22.4},{"s":"27","l":1,"x":212.2,"y":-25.2},{"s":"27","l":1,"x":209.9,"y":-27.4},{"s":"27","l":1,"x":207.2,"y":-29},{"s":"27","l":1,"x":204.9,"y":-28.1},
{"s":"28","l":2,"x":205.7,"y":-26.3},{"s":"28","l":2,"x":208,"y":-23.3},{"s":"28","l":2,"x":211.1,"y":-22.9},{"s":"28","l":2,"x":211.8,"y":-24.8},{"s":"28","l":2,"x":209.1,"y":-27},{"s":"28","l":2,"x":207.2,"y":-28.1}]
},
"concat":[
{"width":873,"height":680,"encoding":{"x":{"field":"x","type":"quantitative","scale":{"domain":[130,240],"range":[281,1025]},"axis":null},"y":{"field":"y","type":"quantitative","scale":{"domain":[-40,40],"range":[612,72]},"axis":null}},"resolve":{"axis":{"x":"independent","y":"independent"}},"layer":[
{"data":{"name":"A"},"mark":{"type":"line","order":false,"interpolate":"linear-closed","stroke":"#161616","strokeWidth":2},"encoding":{"fill":{"field":"l","type":"nominal","scale":{"domain":[1,2,3,4],"range":["#c4c4c4","#ababab","#777777","#000000"]},"legend":null},"detail":{"field":"s"}}},
{"data":{"name":"frame"},"mark":{"type":"rect","fill":null,"stroke":"#2b2b2b","strokeWidth":5},"encoding":{"x":{"field":"x","type":"quantitative","axis":{"orient":"bottom","title":null,"values":[140,160,180,200,220],"offset":-68}},"x2":{"field":"x2"},"y":{"field":"y","type":"quantitative","axis":{"orient":"left","offset":-281,"labels":true,"labelPadding":29,"values":[-30,-20,-10,0,10,20,30],"labelExpr":"abs(datum.value)%20==0?''+datum.value:''","title":"y [mm]","titleX":-163,"titleY":346,"titleAngle":-90,"titleBaseline":"alphabetic","titleAlign":"center"}},"y2":{"field":"y2"}}},
{"data":{"name":"frame"},"mark":{"type":"rect","fill":null,"stroke":null},"encoding":{"x":{"field":"x","type":"quantitative","axis":{"orient":"top","title":null,"values":[140,160,180,200,220],"offset":-72}},"x2":{"field":"x2"},"y":{"field":"y","type":"quantitative","axis":{"orient":"right","title":null,"values":[-30,-20,-10,0,10,20,30],"offset":152}},"y2":{"field":"y2"}}},
{"data":{"values":[{"x":157.8,"y":8.2,"x2":183.8,"y2":10}]},"mark":{"type":"rule","color":"black","strokeWidth":12},"encoding":{"x2":{"field":"x2"},"y2":{"field":"y2"}}},
{"data":{"values":[{"x":143,"y":-28}]},"mark":{"type":"point","shape":"circle","size":13456,"filled":false,"stroke":"black","strokeWidth":8,"opacity":1}},
{"data":{"values":[{"x":143,"y":-32.2,"t":"A"}]},"mark":{"type":"text","fontSize":88,"align":"center","baseline":"alphabetic"},"encoding":{"text":{"field":"t"}}},
{"data":{"values":[{"x":156.3,"y":-30.7,"t":"t / T"}]},"mark":{"type":"text","fontSize":60,"fontStyle":"italic","align":"left","baseline":"alphabetic"},"encoding":{"text":{"field":"t"}}},
{"data":{"values":[{"x":173.1,"y":-30.7,"t":"= 0.48"}]},"mark":{"type":"text","fontSize":60,"align":"left","baseline":"alphabetic"},"encoding":{"text":{"field":"t"}}},
{"data":{"values":[{"x":140.7,"x2":229.3,"y":24.4,"y2":45.5}]},"mark":{"type":"rect","fill":"white","stroke":"black","strokeWidth":12},"encoding":{"x2":{"field":"x2"},"y2":{"field":"y2"}}},
{"data":{"values":[{"x":185.5,"y":32.3,"t":"−40 mm plane"}]},"mark":{"type":"text","fontSize":96,"align":"center","baseline":"alphabetic"},"encoding":{"text":{"field":"t"}}}
]},
{"width":873,"height":680,"encoding":{"x":{"field":"x","type":"quantitative","scale":{"domain":[130,240],"range":[210.5,954.5]},"axis":null},"y":{"field":"y","type":"quantitative","scale":{"domain":[-40,40],"range":[607,67]},"axis":null}},"resolve":{"axis":{"x":"independent","y":"independent"}},"layer":[
{"data":{"name":"B"},"mark":{"type":"line","order":false,"interpolate":"linear-closed","stroke":"#161616","strokeWidth":2},"encoding":{"fill":{"field":"l","type":"nominal","scale":{"domain":[1,2,3,4],"range":["#c4c4c4","#ababab","#777777","#000000"]},"legend":null},"detail":{"field":"s"}}},
{"data":{"name":"frame"},"mark":{"type":"rect","fill":null,"stroke":"#2b2b2b","strokeWidth":5},"encoding":{"x":{"field":"x","type":"quantitative","axis":{"orient":"bottom","title":null,"values":[140,160,180,200,220],"offset":-73}},"x2":{"field":"x2"},"y":{"field":"y","type":"quantitative","axis":{"orient":"left","title":null,"values":[-30,-20,-10,0,10,20,30],"offset":-210.5}},"y2":{"field":"y2"}}},
{"data":{"name":"frame"},"mark":{"type":"rect","fill":null,"stroke":null},"encoding":{"x":{"field":"x","type":"quantitative","axis":{"orient":"top","title":null,"values":[140,160,180,200,220],"offset":-67}},"x2":{"field":"x2"},"y":{"field":"y","type":"quantitative","axis":{"orient":"right","title":null,"values":[-30,-20,-10,0,10,20,30],"offset":81.5}},"y2":{"field":"y2"}}},
{"data":{"values":[{"x":157.7,"y":2.9,"x2":184,"y2":5.2}]},"mark":{"type":"rule","color":"black","strokeWidth":12},"encoding":{"x2":{"field":"x2"},"y2":{"field":"y2"}}},
{"data":{"values":[{"x":153.6,"y":24.4,"x2":164,"y2":6.9}]},"mark":{"type":"rule","color":"black","strokeWidth":3.5},"encoding":{"x2":{"field":"x2"},"y2":{"field":"y2"}}},
{"data":{"values":[{"x":142.9,"y":-27.9}]},"mark":{"type":"point","shape":"circle","size":13456,"filled":false,"stroke":"black","strokeWidth":8,"opacity":1}},
{"data":{"values":[{"x":142.9,"y":-32.1,"t":"B"}]},"mark":{"type":"text","fontSize":88,"align":"center","baseline":"alphabetic"},"encoding":{"text":{"field":"t"}}},
{"data":{"values":[{"x":156.5,"y":-30.4,"t":"t / T"}]},"mark":{"type":"text","fontSize":60,"fontStyle":"italic","align":"left","baseline":"alphabetic"},"encoding":{"text":{"field":"t"}}},
{"data":{"values":[{"x":173.3,"y":-30.4,"t":"= 0.64"}]},"mark":{"type":"text","fontSize":60,"align":"left","baseline":"alphabetic"},"encoding":{"text":{"field":"t"}}},
{"data":{"values":[{"x":139.2,"y":27.3,"t":"attached LEV"}]},"mark":{"type":"text","fontSize":89,"align":"left","baseline":"alphabetic"},"encoding":{"text":{"field":"t"}}}
]},
{"width":873,"height":680,"encoding":{"x":{"field":"x","type":"quantitative","scale":{"domain":[130,240],"range":[152,896]},"axis":null},"y":{"field":"y","type":"quantitative","scale":{"domain":[-40,40],"range":[607,67]},"axis":null}},"resolve":{"axis":{"x":"independent","y":"independent"}},"layer":[
{"data":{"name":"C"},"mark":{"type":"line","order":false,"interpolate":"linear-closed","stroke":"#161616","strokeWidth":2},"encoding":{"fill":{"field":"l","type":"nominal","scale":{"domain":[1,2,3,4],"range":["#c4c4c4","#ababab","#777777","#000000"]},"legend":null},"detail":{"field":"s"}}},
{"data":{"name":"frame"},"mark":{"type":"rect","fill":null,"stroke":"#2b2b2b","strokeWidth":5},"encoding":{"x":{"field":"x","type":"quantitative","axis":{"orient":"bottom","title":null,"values":[140,160,180,200,220],"offset":-73}},"x2":{"field":"x2"},"y":{"field":"y","type":"quantitative","axis":{"orient":"left","title":null,"values":[-30,-20,-10,0,10,20,30],"offset":-152}},"y2":{"field":"y2"}}},
{"data":{"name":"frame"},"mark":{"type":"rect","fill":null,"stroke":null},"encoding":{"x":{"field":"x","type":"quantitative","axis":{"orient":"top","title":null,"values":[140,160,180,200,220],"offset":-67}},"x2":{"field":"x2"},"y":{"field":"y","type":"quantitative","axis":{"orient":"right","title":null,"values":[-30,-20,-10,0,10,20,30],"offset":23}},"y2":{"field":"y2"}}},
{"data":{"values":[{"x":157.8,"y":-4.8,"x2":184.2,"y2":-3.9}]},"mark":{"type":"rule","color":"black","strokeWidth":12},"encoding":{"x2":{"field":"x2"},"y2":{"field":"y2"}}},
{"data":{"values":[{"x":153.6,"y":24.5,"x2":166.5,"y2":5.3}]},"mark":{"type":"rule","color":"black","strokeWidth":3.5},"encoding":{"x2":{"field":"x2"},"y2":{"field":"y2"}}},
{"data":{"values":[{"x":143,"y":-27.9}]},"mark":{"type":"point","shape":"circle","size":13456,"filled":false,"stroke":"black","strokeWidth":8,"opacity":1}},
{"data":{"values":[{"x":143,"y":-31.9,"t":"C"}]},"mark":{"type":"text","fontSize":88,"align":"center","baseline":"alphabetic"},"encoding":{"text":{"field":"t"}}},
{"data":{"values":[{"x":156.5,"y":-30.4,"t":"t / T"}]},"mark":{"type":"text","fontSize":60,"fontStyle":"italic","align":"left","baseline":"alphabetic"},"encoding":{"text":{"field":"t"}}},
{"data":{"values":[{"x":173.3,"y":-30.4,"t":"= 0.80"}]},"mark":{"type":"text","fontSize":60,"align":"left","baseline":"alphabetic"},"encoding":{"text":{"field":"t"}}},
{"data":{"values":[{"x":137.9,"y":27.3,"t":"detached LEV"}]},"mark":{"type":"text","fontSize":88,"align":"left","baseline":"alphabetic"},"encoding":{"text":{"field":"t"}}}
]},
{"width":873,"height":680,"encoding":{"x":{"field":"x","type":"quantitative","scale":{"domain":[130,240],"range":[96,840]},"axis":null},"y":{"field":"y","type":"quantitative","scale":{"domain":[-40,40],"range":[607,67]},"axis":null}},"resolve":{"axis":{"x":"independent","y":"independent"}},"layer":[
{"data":{"name":"D"},"mark":{"type":"line","order":false,"interpolate":"linear-closed","stroke":"#161616","strokeWidth":2},"encoding":{"fill":{"field":"l","type":"nominal","scale":{"domain":[1,2,3,4],"range":["#c4c4c4","#ababab","#777777","#000000"]},"legend":null},"detail":{"field":"s"}}},
{"data":{"name":"frame"},"mark":{"type":"rect","fill":null,"stroke":"#2b2b2b","strokeWidth":5},"encoding":{"x":{"field":"x","type":"quantitative","axis":{"orient":"bottom","title":null,"values":[140,160,180,200,220],"offset":-73}},"x2":{"field":"x2"},"y":{"field":"y","type":"quantitative","axis":{"orient":"left","title":null,"values":[-30,-20,-10,0,10,20,30],"offset":-96}},"y2":{"field":"y2"}}},
{"data":{"name":"frame"},"mark":{"type":"rect","fill":null,"stroke":null},"encoding":{"x":{"field":"x","type":"quantitative","axis":{"orient":"top","title":null,"values":[140,160,180,200,220],"offset":-67}},"x2":{"field":"x2"},"y":{"field":"y","type":"quantitative","axis":{"orient":"right","title":null,"values":[-30,-20,-10,0,10,20,30],"offset":-33}},"y2":{"field":"y2"}}},
{"data":{"values":[{"x":157.8,"y":-7.8,"x2":184.2,"y2":-8.5}]},"mark":{"type":"rule","color":"black","strokeWidth":12},"encoding":{"x2":{"field":"x2"},"y2":{"field":"y2"}}},
{"data":{"values":[{"x":153.6,"y":24.5,"x2":169.3,"y2":2.9}]},"mark":{"type":"rule","color":"black","strokeWidth":3.5},"encoding":{"x2":{"field":"x2"},"y2":{"field":"y2"}}},
{"data":{"values":[{"x":143,"y":-27.9}]},"mark":{"type":"point","shape":"circle","size":13456,"filled":false,"stroke":"black","strokeWidth":8,"opacity":1}},
{"data":{"values":[{"x":143,"y":-32.1,"t":"D"}]},"mark":{"type":"text","fontSize":88,"align":"center","baseline":"alphabetic"},"encoding":{"text":{"field":"t"}}},
{"data":{"values":[{"x":156.6,"y":-30.4,"t":"t / T"}]},"mark":{"type":"text","fontSize":60,"fontStyle":"italic","align":"left","baseline":"alphabetic"},"encoding":{"text":{"field":"t"}}},
{"data":{"values":[{"x":173.1,"y":-30.4,"t":"= 0.88"}]},"mark":{"type":"text","fontSize":60,"align":"left","baseline":"alphabetic"},"encoding":{"text":{"field":"t"}}},
{"data":{"values":[{"x":136,"y":28.9,"t":"advecting LEV"}]},"mark":{"type":"text","fontSize":88,"align":"left","baseline":"alphabetic"},"encoding":{"text":{"field":"t"}}}
]},
{"width":873,"height":761,"encoding":{"x":{"field":"x","type":"quantitative","scale":{"domain":[130,240],"range":[270,1014]},"axis":null},"y":{"field":"y","type":"quantitative","scale":{"domain":[-40,40],"range":[543,3]},"axis":null}},"resolve":{"axis":{"x":"independent","y":"independent"}},"layer":[
{"data":{"name":"E"},"mark":{"type":"line","order":false,"interpolate":"linear-closed","stroke":"#161616","strokeWidth":2},"encoding":{"fill":{"field":"l","type":"nominal","scale":{"domain":[1,2,3,4],"range":["#c4c4c4","#ababab","#777777","#000000"]},"legend":null},"detail":{"field":"s"}}},
{"data":{"name":"frame"},"mark":{"type":"rect","fill":null,"stroke":"#2b2b2b","strokeWidth":5},"encoding":{"x":{"field":"x","type":"quantitative","axis":{"orient":"bottom","offset":-218,"labels":true,"labelPadding":26,"values":[140,160,180,200,220],"labelExpr":"(datum.value-140)%40==0?''+datum.value:''","title":"x [mm]","titleX":605,"titleY":166,"titleBaseline":"alphabetic","titleAlign":"center"}},"x2":{"field":"x2"},"y":{"field":"y","type":"quantitative","axis":{"orient":"left","offset":-270,"labels":true,"labelPadding":29,"values":[-30,-20,-10,0,10,20,30],"labelExpr":"abs(datum.value)%20==0?''+datum.value:''","title":"y [mm]","titleX":-162,"titleY":276,"titleAngle":-90,"titleBaseline":"alphabetic","titleAlign":"center"}},"y2":{"field":"y2"}}},
{"data":{"name":"frame"},"mark":{"type":"rect","fill":null,"stroke":null},"encoding":{"x":{"field":"x","type":"quantitative","axis":{"orient":"top","title":null,"values":[140,160,180,200,220],"offset":-3}},"x2":{"field":"x2"},"y":{"field":"y","type":"quantitative","axis":{"orient":"right","title":null,"values":[-30,-20,-10,0,10,20,30],"offset":141}},"y2":{"field":"y2"}}},
{"data":{"values":[{"x":157.8,"y":-8.7,"x2":184.1,"y2":-10.4}]},"mark":{"type":"rule","color":"black","strokeWidth":12},"encoding":{"x2":{"field":"x2"},"y2":{"field":"y2"}}},
{"data":{"values":[{"x":153.5,"y":24.5,"x2":172.9,"y2":0.1}]},"mark":{"type":"rule","color":"black","strokeWidth":3.5},"encoding":{"x2":{"field":"x2"},"y2":{"field":"y2"}}},
{"data":{"values":[{"x":143,"y":-27.9}]},"mark":{"type":"point","shape":"circle","size":13456,"filled":false,"stroke":"black","strokeWidth":8,"opacity":1}},
{"data":{"values":[{"x":143,"y":-32.2,"t":"E"}]},"mark":{"type":"text","fontSize":88,"align":"center","baseline":"alphabetic"},"encoding":{"text":{"field":"t"}}},
{"data":{"values":[{"x":156.5,"y":-30.7,"t":"t / T"}]},"mark":{"type":"text","fontSize":60,"fontStyle":"italic","align":"left","baseline":"alphabetic"},"encoding":{"text":{"field":"t"}}},
{"data":{"values":[{"x":173.1,"y":-30.7,"t":"= 0.96"}]},"mark":{"type":"text","fontSize":60,"align":"left","baseline":"alphabetic"},"encoding":{"text":{"field":"t"}}},
{"data":{"values":[{"x":136,"y":29.1,"t":"advecting LEV"}]},"mark":{"type":"text","fontSize":88,"align":"left","baseline":"alphabetic"},"encoding":{"text":{"field":"t"}}}
]},
{"width":873,"height":761,"encoding":{"x":{"field":"x","type":"quantitative","scale":{"domain":[130,240],"range":[200,944]},"axis":null},"y":{"field":"y","type":"quantitative","scale":{"domain":[-40,40],"range":[543,3]},"axis":null}},"resolve":{"axis":{"x":"independent","y":"independent"}},"layer":[
{"data":{"name":"F"},"mark":{"type":"line","order":false,"interpolate":"linear-closed","stroke":"#161616","strokeWidth":2},"encoding":{"fill":{"field":"l","type":"nominal","scale":{"domain":[1,2,3,4],"range":["#c4c4c4","#ababab","#777777","#000000"]},"legend":null},"detail":{"field":"s"}}},
{"data":{"name":"frame"},"mark":{"type":"rect","fill":null,"stroke":"#2b2b2b","strokeWidth":5},"encoding":{"x":{"field":"x","type":"quantitative","axis":{"orient":"bottom","offset":-218,"labels":true,"labelPadding":26,"values":[140,160,180,200,220],"labelExpr":"(datum.value-140)%40==0?''+datum.value:''","title":"x [mm]","titleX":533,"titleY":166,"titleBaseline":"alphabetic","titleAlign":"center"}},"x2":{"field":"x2"},"y":{"field":"y","type":"quantitative","axis":{"orient":"left","title":null,"values":[-30,-20,-10,0,10,20,30],"offset":-200}},"y2":{"field":"y2"}}},
{"data":{"name":"frame"},"mark":{"type":"rect","fill":null,"stroke":null},"encoding":{"x":{"field":"x","type":"quantitative","axis":{"orient":"top","title":null,"values":[140,160,180,200,220],"offset":-3}},"x2":{"field":"x2"},"y":{"field":"y","type":"quantitative","axis":{"orient":"right","title":null,"values":[-30,-20,-10,0,10,20,30],"offset":71}},"y2":{"field":"y2"}}},
{"data":{"values":[{"x":157.9,"y":-6.7,"x2":184.1,"y2":-9.2}]},"mark":{"type":"rule","color":"black","strokeWidth":12},"encoding":{"x2":{"field":"x2"},"y2":{"field":"y2"}}},
{"data":{"values":[{"x":186.7,"y":21.7,"x2":174.6,"y2":0.1},{"x":186.7,"y":21.7,"x2":190.2,"y2":-7.1}]},"mark":{"type":"rule","color":"black","strokeWidth":3.5},"encoding":{"x2":{"field":"x2"},"y2":{"field":"y2"}}},
{"data":{"values":[{"x":143,"y":-27.9}]},"mark":{"type":"point","shape":"circle","size":13456,"filled":false,"stroke":"black","strokeWidth":8,"opacity":1}},
{"data":{"values":[{"x":143,"y":-32.2,"t":"F"}]},"mark":{"type":"text","fontSize":88,"align":"center","baseline":"alphabetic"},"encoding":{"text":{"field":"t"}}},
{"data":{"values":[{"x":156.4,"y":-30.7,"t":"t / T"}]},"mark":{"type":"text","fontSize":60,"fontStyle":"italic","align":"left","baseline":"alphabetic"},"encoding":{"text":{"field":"t"}}},
{"data":{"values":[{"x":173.2,"y":-30.7,"t":"= 1.08"}]},"mark":{"type":"text","fontSize":60,"align":"left","baseline":"alphabetic"},"encoding":{"text":{"field":"t"}}},
{"data":{"values":[{"x":186.8,"y":28.2,"t":"merging"}]},"mark":{"type":"text","fontSize":92,"align":"center","baseline":"alphabetic"},"encoding":{"text":{"field":"t"}}}
]},
{"width":873,"height":761,"encoding":{"x":{"field":"x","type":"quantitative","scale":{"domain":[130,240],"range":[142,886]},"axis":null},"y":{"field":"y","type":"quantitative","scale":{"domain":[-40,40],"range":[543,3]},"axis":null}},"resolve":{"axis":{"x":"independent","y":"independent"}},"layer":[
{"data":{"name":"G"},"mark":{"type":"line","order":false,"interpolate":"linear-closed","stroke":"#161616","strokeWidth":2},"encoding":{"fill":{"field":"l","type":"nominal","scale":{"domain":[1,2,3,4],"range":["#c4c4c4","#ababab","#777777","#000000"]},"legend":null},"detail":{"field":"s"}}},
{"data":{"name":"frame"},"mark":{"type":"rect","fill":null,"stroke":"#2b2b2b","strokeWidth":5},"encoding":{"x":{"field":"x","type":"quantitative","axis":{"orient":"bottom","offset":-218,"labels":true,"labelPadding":26,"values":[140,160,180,200,220],"labelExpr":"(datum.value-140)%40==0?''+datum.value:''","title":"x [mm]","titleX":476,"titleY":166,"titleBaseline":"alphabetic","titleAlign":"center"}},"x2":{"field":"x2"},"y":{"field":"y","type":"quantitative","axis":{"orient":"left","title":null,"values":[-30,-20,-10,0,10,20,30],"offset":-142}},"y2":{"field":"y2"}}},
{"data":{"name":"frame"},"mark":{"type":"rect","fill":null,"stroke":null},"encoding":{"x":{"field":"x","type":"quantitative","axis":{"orient":"top","title":null,"values":[140,160,180,200,220],"offset":-3}},"x2":{"field":"x2"},"y":{"field":"y","type":"quantitative","axis":{"orient":"right","title":null,"values":[-30,-20,-10,0,10,20,30],"offset":13}},"y2":{"field":"y2"}}},
{"data":{"values":[{"x":157.9,"y":1.8,"x2":184.2,"y2":0.1}]},"mark":{"type":"rule","color":"black","strokeWidth":12},"encoding":{"x2":{"field":"x2"},"y2":{"field":"y2"}}},
{"data":{"values":[{"x":171,"y":21.7,"x2":185,"y2":6.8},{"x":174.4,"y":-13.9,"x2":190,"y2":-9.7}]},"mark":{"type":"rule","color":"black","strokeWidth":3.5},"encoding":{"x2":{"field":"x2"},"y2":{"field":"y2"}}},
{"data":{"values":[{"x":143,"y":-27.9}]},"mark":{"type":"point","shape":"circle","size":13456,"filled":false,"stroke":"black","strokeWidth":8,"opacity":1}},
{"data":{"values":[{"x":143,"y":-32.2,"t":"G"}]},"mark":{"type":"text","fontSize":88,"align":"center","baseline":"alphabetic"},"encoding":{"text":{"field":"t"}}},
{"data":{"values":[{"x":156.6,"y":-30.7,"t":"t / T"}]},"mark":{"type":"text","fontSize":60,"fontStyle":"italic","align":"left","baseline":"alphabetic"},"encoding":{"text":{"field":"t"}}},
{"data":{"values":[{"x":173.3,"y":-30.7,"t":"= 1.24"}]},"mark":{"type":"text","fontSize":60,"align":"left","baseline":"alphabetic"},"encoding":{"text":{"field":"t"}}},
{"data":{"values":[{"x":134.7,"y":27.4,"t":"additional"}]},"mark":{"type":"text","fontSize":92,"align":"left","baseline":"alphabetic"},"encoding":{"text":{"field":"t"}}},
{"data":{"values":[{"x":193.7,"y":27.4,"t":"ω"}]},"mark":{"type":"text","fontSize":92,"fontStyle":"italic","align":"left","baseline":"alphabetic"},"encoding":{"text":{"field":"t"}}},
{"data":{"values":[{"x":203.1,"y":25.4,"t":"z"}]},"mark":{"type":"text","fontSize":62,"fontStyle":"italic","align":"left","baseline":"alphabetic"},"encoding":{"text":{"field":"t"}}},
{"data":{"values":[{"x":161.2,"y":-18.2,"t":"TEV"}]},"mark":{"type":"text","fontSize":84,"align":"center","baseline":"alphabetic"},"encoding":{"text":{"field":"t"}}}
]},
{"width":873,"height":761,"encoding":{"x":{"field":"x","type":"quantitative","scale":{"domain":[130,240],"range":[84,828]},"axis":null},"y":{"field":"y","type":"quantitative","scale":{"domain":[-40,40],"range":[543,3]},"axis":null}},"resolve":{"axis":{"x":"independent","y":"independent"}},"layer":[
{"data":{"name":"H"},"mark":{"type":"line","order":false,"interpolate":"linear-closed","stroke":"#161616","strokeWidth":2},"encoding":{"fill":{"field":"l","type":"nominal","scale":{"domain":[1,2,3,4],"range":["#c4c4c4","#ababab","#777777","#000000"]},"legend":null},"detail":{"field":"s"}}},
{"data":{"name":"frame"},"mark":{"type":"rect","fill":null,"stroke":"#2b2b2b","strokeWidth":5},"encoding":{"x":{"field":"x","type":"quantitative","axis":{"orient":"bottom","offset":-218,"labels":true,"labelPadding":26,"values":[140,160,180,200,220],"labelExpr":"(datum.value-140)%40==0?''+datum.value:''","title":"x [mm]","titleX":420,"titleY":166,"titleBaseline":"alphabetic","titleAlign":"center"}},"x2":{"field":"x2"},"y":{"field":"y","type":"quantitative","axis":{"orient":"left","title":null,"values":[-30,-20,-10,0,10,20,30],"offset":-84}},"y2":{"field":"y2"}}},
{"data":{"name":"frame"},"mark":{"type":"rect","fill":null,"stroke":null},"encoding":{"x":{"field":"x","type":"quantitative","axis":{"orient":"top","title":null,"values":[140,160,180,200,220],"offset":-3}},"x2":{"field":"x2"},"y":{"field":"y","type":"quantitative","axis":{"orient":"right","title":null,"values":[-30,-20,-10,0,10,20,30],"offset":-45}},"y2":{"field":"y2"}}},
{"data":{"values":[{"x":157.7,"y":7.7,"x2":184,"y2":8.6}]},"mark":{"type":"rule","color":"black","strokeWidth":12},"encoding":{"x2":{"field":"x2"},"y2":{"field":"y2"}}},
{"data":{"values":[{"x":185,"y":21.7,"x2":194,"y2":10.6},{"x":174.5,"y":-13.9,"x2":193.7,"y2":-8.8}]},"mark":{"type":"rule","color":"black","strokeWidth":3.5},"encoding":{"x2":{"field":"x2"},"y2":{"field":"y2"}}},
{"data":{"values":[{"x":143,"y":-27.9}]},"mark":{"type":"point","shape":"circle","size":13456,"filled":false,"stroke":"black","strokeWidth":8,"opacity":1}},
{"data":{"values":[{"x":143,"y":-32.2,"t":"H"}]},"mark":{"type":"text","fontSize":88,"align":"center","baseline":"alphabetic"},"encoding":{"text":{"field":"t"}}},
{"data":{"values":[{"x":156.6,"y":-30.7,"t":"t / T"}]},"mark":{"type":"text","fontSize":60,"fontStyle":"italic","align":"left","baseline":"alphabetic"},"encoding":{"text":{"field":"t"}}},
{"data":{"values":[{"x":173.3,"y":-30.7,"t":"= 1.40"}]},"mark":{"type":"text","fontSize":60,"align":"left","baseline":"alphabetic"},"encoding":{"text":{"field":"t"}}},
{"data":{"values":[{"x":135.4,"y":27.4,"t":"additional"}]},"mark":{"type":"text","fontSize":92,"align":"left","baseline":"alphabetic"},"encoding":{"text":{"field":"t"}}},
{"data":{"values":[{"x":194.5,"y":27.4,"t":"ω"}]},"mark":{"type":"text","fontSize":92,"fontStyle":"italic","align":"left","baseline":"alphabetic"},"encoding":{"text":{"field":"t"}}},
{"data":{"values":[{"x":203.8,"y":25.4,"t":"z"}]},"mark":{"type":"text","fontSize":62,"fontStyle":"italic","align":"left","baseline":"alphabetic"},"encoding":{"text":{"field":"t"}}},
{"data":{"values":[{"x":161.1,"y":-18.2,"t":"TEV"}]},"mark":{"type":"text","fontSize":84,"align":"center","baseline":"alphabetic"},"encoding":{"text":{"field":"t"}}}
]}
]}
